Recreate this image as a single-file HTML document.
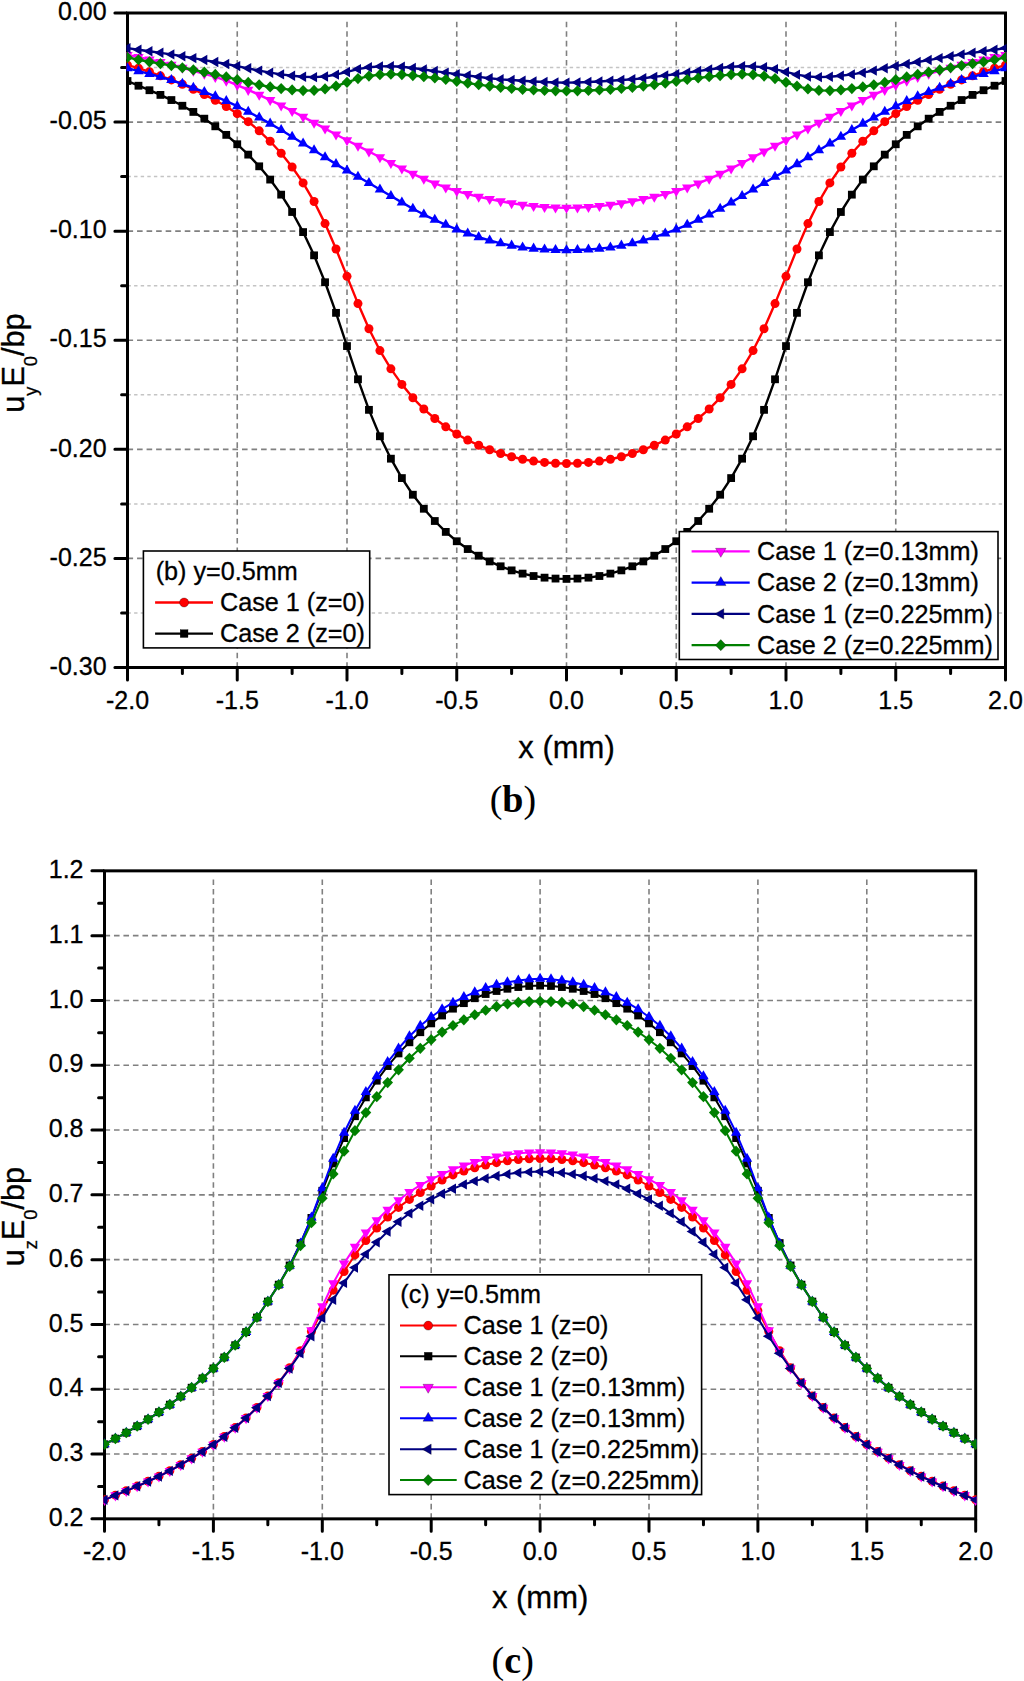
<!DOCTYPE html>
<html><head><meta charset="utf-8"><title>Figure</title>
<style>html,body{margin:0;padding:0;background:#fff;}svg{display:block;}</style></head>
<body><svg width="1024" height="1681" viewBox="0 0 1024 1681">
<rect width="1024" height="1681" fill="#fff"/>
<line x1="127.5" y1="67.54" x2="1005.5" y2="67.54" stroke="#c4c4c4" stroke-width="1.5" stroke-dasharray="3.4 3.2"/>
<line x1="127.5" y1="176.62" x2="1005.5" y2="176.62" stroke="#c4c4c4" stroke-width="1.5" stroke-dasharray="3.4 3.2"/>
<line x1="127.5" y1="285.71" x2="1005.5" y2="285.71" stroke="#c4c4c4" stroke-width="1.5" stroke-dasharray="3.4 3.2"/>
<line x1="127.5" y1="394.79" x2="1005.5" y2="394.79" stroke="#c4c4c4" stroke-width="1.5" stroke-dasharray="3.4 3.2"/>
<line x1="127.5" y1="503.88" x2="1005.5" y2="503.88" stroke="#c4c4c4" stroke-width="1.5" stroke-dasharray="3.4 3.2"/>
<line x1="127.5" y1="612.96" x2="1005.5" y2="612.96" stroke="#c4c4c4" stroke-width="1.5" stroke-dasharray="3.4 3.2"/>
<line x1="127.5" y1="122.08" x2="1005.5" y2="122.08" stroke="#808080" stroke-width="1.6" stroke-dasharray="5.6 3.94"/>
<line x1="127.5" y1="231.17" x2="1005.5" y2="231.17" stroke="#808080" stroke-width="1.6" stroke-dasharray="5.6 3.94"/>
<line x1="127.5" y1="340.25" x2="1005.5" y2="340.25" stroke="#808080" stroke-width="1.6" stroke-dasharray="5.6 3.94"/>
<line x1="127.5" y1="449.33" x2="1005.5" y2="449.33" stroke="#808080" stroke-width="1.6" stroke-dasharray="5.6 3.94"/>
<line x1="127.5" y1="558.42" x2="1005.5" y2="558.42" stroke="#808080" stroke-width="1.6" stroke-dasharray="5.6 3.94"/>
<line x1="237.25" y1="21.7" x2="237.25" y2="667.5" stroke="#808080" stroke-width="1.6" stroke-dasharray="5.6 3.96"/>
<line x1="347" y1="21.7" x2="347" y2="667.5" stroke="#808080" stroke-width="1.6" stroke-dasharray="5.6 3.96"/>
<line x1="456.75" y1="21.7" x2="456.75" y2="667.5" stroke="#808080" stroke-width="1.6" stroke-dasharray="5.6 3.96"/>
<line x1="566.5" y1="21.7" x2="566.5" y2="667.5" stroke="#808080" stroke-width="1.6" stroke-dasharray="5.6 3.96"/>
<line x1="676.25" y1="21.7" x2="676.25" y2="667.5" stroke="#808080" stroke-width="1.6" stroke-dasharray="5.6 3.96"/>
<line x1="786" y1="21.7" x2="786" y2="667.5" stroke="#808080" stroke-width="1.6" stroke-dasharray="5.6 3.96"/>
<line x1="895.75" y1="21.7" x2="895.75" y2="667.5" stroke="#808080" stroke-width="1.6" stroke-dasharray="5.6 3.96"/>
<rect x="127.5" y="13" width="878" height="654.5" fill="none" stroke="#000" stroke-width="3"/>
<path d="M127.5 668.5V680 M237.25 668.5V680 M347 668.5V680 M456.75 668.5V680 M566.5 668.5V680 M676.25 668.5V680 M786 668.5V680 M895.75 668.5V680 M1005.5 668.5V680 M182.38 668.5V673.4 M292.12 668.5V673.4 M401.88 668.5V673.4 M511.62 668.5V673.4 M621.38 668.5V673.4 M731.12 668.5V673.4 M840.88 668.5V673.4 M950.62 668.5V673.4 M126.5 13H114.9 M126.5 122.08H114.9 M126.5 231.17H114.9 M126.5 340.25H114.9 M126.5 449.33H114.9 M126.5 558.42H114.9 M126.5 667.5H114.9 M126.5 67.54H121.6 M126.5 176.62H121.6 M126.5 285.71H121.6 M126.5 394.79H121.6 M126.5 503.88H121.6 M126.5 612.96H121.6" fill="none" stroke="#000" stroke-width="3" stroke-linecap="round"/>
<clipPath id="cb"><rect x="126.5" y="-7" width="880" height="694.5"/></clipPath>
<g clip-path="url(#cb)">
<g>
<polyline fill="none" stroke="#ff0000" stroke-width="2.4" stroke-linejoin="round" points="127.5,65.2 138.47,68.17 149.45,71.8 160.43,75.85 171.4,79.88 182.38,84.22 193.35,89.28 204.32,94.62 215.3,100.28 226.27,106.57 237.25,113.65 248.22,121.68 259.2,130.85 270.17,141.3 281.15,153.2 292.12,166.95 303.1,182.9 314.07,201.55 325.05,223.6 336.02,248.97 347,276.35 357.98,303.6 368.95,328.75 379.92,350.58 390.9,368.85 401.88,384.38 412.85,397.8 423.82,409.05 434.8,418.5 445.77,426.82 456.75,434.02 467.72,440.1 478.7,445.27 489.68,449.7 500.65,453.52 511.62,456.75 522.6,459.28 533.58,461.1 544.55,462.38 555.52,463.22 566.5,463.55 577.47,463.22 588.45,462.38 599.42,461.1 610.4,459.28 621.38,456.75 632.35,453.52 643.32,449.7 654.3,445.27 665.27,440.1 676.25,434.02 687.23,426.82 698.2,418.5 709.17,409.05 720.15,397.8 731.12,384.38 742.1,368.85 753.07,350.58 764.05,328.75 775.02,303.6 786,276.35 796.98,248.97 807.95,223.6 818.92,201.55 829.9,182.9 840.88,166.95 851.85,153.2 862.82,141.3 873.8,130.85 884.77,121.68 895.75,113.65 906.73,106.57 917.7,100.28 928.67,94.62 939.65,89.28 950.62,84.22 961.6,79.88 972.57,75.85 983.55,71.8 994.52,68.17 1005.5,65.2"/>
<g fill="#ff0000">
<circle cx="127.5" cy="65.2" r="4.5"/>
<circle cx="138.47" cy="68.17" r="4.5"/>
<circle cx="149.45" cy="71.8" r="4.5"/>
<circle cx="160.43" cy="75.85" r="4.5"/>
<circle cx="171.4" cy="79.88" r="4.5"/>
<circle cx="182.38" cy="84.22" r="4.5"/>
<circle cx="193.35" cy="89.28" r="4.5"/>
<circle cx="204.32" cy="94.62" r="4.5"/>
<circle cx="215.3" cy="100.28" r="4.5"/>
<circle cx="226.27" cy="106.57" r="4.5"/>
<circle cx="237.25" cy="113.65" r="4.5"/>
<circle cx="248.22" cy="121.68" r="4.5"/>
<circle cx="259.2" cy="130.85" r="4.5"/>
<circle cx="270.17" cy="141.3" r="4.5"/>
<circle cx="281.15" cy="153.2" r="4.5"/>
<circle cx="292.12" cy="166.95" r="4.5"/>
<circle cx="303.1" cy="182.9" r="4.5"/>
<circle cx="314.07" cy="201.55" r="4.5"/>
<circle cx="325.05" cy="223.6" r="4.5"/>
<circle cx="336.02" cy="248.97" r="4.5"/>
<circle cx="347" cy="276.35" r="4.5"/>
<circle cx="357.98" cy="303.6" r="4.5"/>
<circle cx="368.95" cy="328.75" r="4.5"/>
<circle cx="379.92" cy="350.58" r="4.5"/>
<circle cx="390.9" cy="368.85" r="4.5"/>
<circle cx="401.88" cy="384.38" r="4.5"/>
<circle cx="412.85" cy="397.8" r="4.5"/>
<circle cx="423.82" cy="409.05" r="4.5"/>
<circle cx="434.8" cy="418.5" r="4.5"/>
<circle cx="445.77" cy="426.82" r="4.5"/>
<circle cx="456.75" cy="434.02" r="4.5"/>
<circle cx="467.72" cy="440.1" r="4.5"/>
<circle cx="478.7" cy="445.27" r="4.5"/>
<circle cx="489.68" cy="449.7" r="4.5"/>
<circle cx="500.65" cy="453.52" r="4.5"/>
<circle cx="511.62" cy="456.75" r="4.5"/>
<circle cx="522.6" cy="459.28" r="4.5"/>
<circle cx="533.58" cy="461.1" r="4.5"/>
<circle cx="544.55" cy="462.38" r="4.5"/>
<circle cx="555.52" cy="463.22" r="4.5"/>
<circle cx="566.5" cy="463.55" r="4.5"/>
<circle cx="577.47" cy="463.22" r="4.5"/>
<circle cx="588.45" cy="462.38" r="4.5"/>
<circle cx="599.42" cy="461.1" r="4.5"/>
<circle cx="610.4" cy="459.28" r="4.5"/>
<circle cx="621.38" cy="456.75" r="4.5"/>
<circle cx="632.35" cy="453.52" r="4.5"/>
<circle cx="643.32" cy="449.7" r="4.5"/>
<circle cx="654.3" cy="445.27" r="4.5"/>
<circle cx="665.27" cy="440.1" r="4.5"/>
<circle cx="676.25" cy="434.02" r="4.5"/>
<circle cx="687.23" cy="426.82" r="4.5"/>
<circle cx="698.2" cy="418.5" r="4.5"/>
<circle cx="709.17" cy="409.05" r="4.5"/>
<circle cx="720.15" cy="397.8" r="4.5"/>
<circle cx="731.12" cy="384.38" r="4.5"/>
<circle cx="742.1" cy="368.85" r="4.5"/>
<circle cx="753.07" cy="350.58" r="4.5"/>
<circle cx="764.05" cy="328.75" r="4.5"/>
<circle cx="775.02" cy="303.6" r="4.5"/>
<circle cx="786" cy="276.35" r="4.5"/>
<circle cx="796.98" cy="248.97" r="4.5"/>
<circle cx="807.95" cy="223.6" r="4.5"/>
<circle cx="818.92" cy="201.55" r="4.5"/>
<circle cx="829.9" cy="182.9" r="4.5"/>
<circle cx="840.88" cy="166.95" r="4.5"/>
<circle cx="851.85" cy="153.2" r="4.5"/>
<circle cx="862.82" cy="141.3" r="4.5"/>
<circle cx="873.8" cy="130.85" r="4.5"/>
<circle cx="884.77" cy="121.68" r="4.5"/>
<circle cx="895.75" cy="113.65" r="4.5"/>
<circle cx="906.73" cy="106.57" r="4.5"/>
<circle cx="917.7" cy="100.28" r="4.5"/>
<circle cx="928.67" cy="94.62" r="4.5"/>
<circle cx="939.65" cy="89.28" r="4.5"/>
<circle cx="950.62" cy="84.22" r="4.5"/>
<circle cx="961.6" cy="79.88" r="4.5"/>
<circle cx="972.57" cy="75.85" r="4.5"/>
<circle cx="983.55" cy="71.8" r="4.5"/>
<circle cx="994.52" cy="68.17" r="4.5"/>
<circle cx="1005.5" cy="65.2" r="4.5"/>
</g></g>
<g>
<polyline fill="none" stroke="#000000" stroke-width="2.4" stroke-linejoin="round" points="127.5,81 138.47,85.72 149.45,90.23 160.43,94.9 171.4,100.05 182.38,105.75 193.35,111.92 204.32,118.67 215.3,126.32 226.27,134.88 237.25,144.25 248.22,154.62 259.2,166.32 270.17,179.58 281.15,194.65 292.12,212 303.1,232.08 314.07,255.35 325.05,282.25 336.02,312.85 347,346.08 357.98,379.3 368.95,409.85 379.92,436.28 390.9,458.68 401.88,478.07 412.85,494.73 423.82,508.75 434.8,521 445.77,531.9 456.75,541.25 467.72,549.05 478.7,555.7 489.68,561.43 500.65,566.3 511.62,570.38 522.6,573.6 533.58,576.02 544.55,577.65 555.52,578.58 566.5,578.9 577.47,578.58 588.45,577.65 599.42,576.02 610.4,573.6 621.38,570.38 632.35,566.3 643.32,561.43 654.3,555.7 665.27,549.05 676.25,541.25 687.23,531.9 698.2,521 709.17,508.75 720.15,494.73 731.12,478.07 742.1,458.68 753.07,436.28 764.05,409.85 775.02,379.3 786,346.08 796.98,312.85 807.95,282.25 818.92,255.35 829.9,232.08 840.88,212 851.85,194.65 862.82,179.58 873.8,166.32 884.77,154.62 895.75,144.25 906.73,134.88 917.7,126.32 928.67,118.67 939.65,111.92 950.62,105.75 961.6,100.05 972.57,94.9 983.55,90.23 994.52,85.72 1005.5,81"/>
<g fill="#000000">
<rect x="123.6" y="77.1" width="7.8" height="7.8"/>
<rect x="134.57" y="81.82" width="7.8" height="7.8"/>
<rect x="145.55" y="86.33" width="7.8" height="7.8"/>
<rect x="156.53" y="91" width="7.8" height="7.8"/>
<rect x="167.5" y="96.15" width="7.8" height="7.8"/>
<rect x="178.47" y="101.85" width="7.8" height="7.8"/>
<rect x="189.45" y="108.02" width="7.8" height="7.8"/>
<rect x="200.42" y="114.77" width="7.8" height="7.8"/>
<rect x="211.4" y="122.42" width="7.8" height="7.8"/>
<rect x="222.37" y="130.97" width="7.8" height="7.8"/>
<rect x="233.35" y="140.35" width="7.8" height="7.8"/>
<rect x="244.32" y="150.72" width="7.8" height="7.8"/>
<rect x="255.3" y="162.42" width="7.8" height="7.8"/>
<rect x="266.27" y="175.68" width="7.8" height="7.8"/>
<rect x="277.25" y="190.75" width="7.8" height="7.8"/>
<rect x="288.23" y="208.1" width="7.8" height="7.8"/>
<rect x="299.2" y="228.18" width="7.8" height="7.8"/>
<rect x="310.18" y="251.45" width="7.8" height="7.8"/>
<rect x="321.15" y="278.35" width="7.8" height="7.8"/>
<rect x="332.12" y="308.95" width="7.8" height="7.8"/>
<rect x="343.1" y="342.18" width="7.8" height="7.8"/>
<rect x="354.08" y="375.4" width="7.8" height="7.8"/>
<rect x="365.05" y="405.95" width="7.8" height="7.8"/>
<rect x="376.02" y="432.38" width="7.8" height="7.8"/>
<rect x="387" y="454.78" width="7.8" height="7.8"/>
<rect x="397.98" y="474.18" width="7.8" height="7.8"/>
<rect x="408.95" y="490.83" width="7.8" height="7.8"/>
<rect x="419.93" y="504.85" width="7.8" height="7.8"/>
<rect x="430.9" y="517.1" width="7.8" height="7.8"/>
<rect x="441.88" y="528" width="7.8" height="7.8"/>
<rect x="452.85" y="537.35" width="7.8" height="7.8"/>
<rect x="463.82" y="545.15" width="7.8" height="7.8"/>
<rect x="474.8" y="551.8" width="7.8" height="7.8"/>
<rect x="485.78" y="557.53" width="7.8" height="7.8"/>
<rect x="496.75" y="562.4" width="7.8" height="7.8"/>
<rect x="507.73" y="566.48" width="7.8" height="7.8"/>
<rect x="518.7" y="569.7" width="7.8" height="7.8"/>
<rect x="529.68" y="572.12" width="7.8" height="7.8"/>
<rect x="540.65" y="573.75" width="7.8" height="7.8"/>
<rect x="551.62" y="574.68" width="7.8" height="7.8"/>
<rect x="562.6" y="575" width="7.8" height="7.8"/>
<rect x="573.57" y="574.68" width="7.8" height="7.8"/>
<rect x="584.55" y="573.75" width="7.8" height="7.8"/>
<rect x="595.52" y="572.12" width="7.8" height="7.8"/>
<rect x="606.5" y="569.7" width="7.8" height="7.8"/>
<rect x="617.48" y="566.48" width="7.8" height="7.8"/>
<rect x="628.45" y="562.4" width="7.8" height="7.8"/>
<rect x="639.42" y="557.53" width="7.8" height="7.8"/>
<rect x="650.4" y="551.8" width="7.8" height="7.8"/>
<rect x="661.38" y="545.15" width="7.8" height="7.8"/>
<rect x="672.35" y="537.35" width="7.8" height="7.8"/>
<rect x="683.33" y="528" width="7.8" height="7.8"/>
<rect x="694.3" y="517.1" width="7.8" height="7.8"/>
<rect x="705.27" y="504.85" width="7.8" height="7.8"/>
<rect x="716.25" y="490.83" width="7.8" height="7.8"/>
<rect x="727.23" y="474.18" width="7.8" height="7.8"/>
<rect x="738.2" y="454.78" width="7.8" height="7.8"/>
<rect x="749.17" y="432.38" width="7.8" height="7.8"/>
<rect x="760.15" y="405.95" width="7.8" height="7.8"/>
<rect x="771.12" y="375.4" width="7.8" height="7.8"/>
<rect x="782.1" y="342.18" width="7.8" height="7.8"/>
<rect x="793.08" y="308.95" width="7.8" height="7.8"/>
<rect x="804.05" y="278.35" width="7.8" height="7.8"/>
<rect x="815.02" y="251.45" width="7.8" height="7.8"/>
<rect x="826" y="228.18" width="7.8" height="7.8"/>
<rect x="836.98" y="208.1" width="7.8" height="7.8"/>
<rect x="847.95" y="190.75" width="7.8" height="7.8"/>
<rect x="858.92" y="175.68" width="7.8" height="7.8"/>
<rect x="869.9" y="162.42" width="7.8" height="7.8"/>
<rect x="880.88" y="150.72" width="7.8" height="7.8"/>
<rect x="891.85" y="140.35" width="7.8" height="7.8"/>
<rect x="902.83" y="130.97" width="7.8" height="7.8"/>
<rect x="913.8" y="122.42" width="7.8" height="7.8"/>
<rect x="924.77" y="114.77" width="7.8" height="7.8"/>
<rect x="935.75" y="108.02" width="7.8" height="7.8"/>
<rect x="946.73" y="101.85" width="7.8" height="7.8"/>
<rect x="957.7" y="96.15" width="7.8" height="7.8"/>
<rect x="968.67" y="91" width="7.8" height="7.8"/>
<rect x="979.65" y="86.33" width="7.8" height="7.8"/>
<rect x="990.62" y="81.82" width="7.8" height="7.8"/>
<rect x="1001.6" y="77.1" width="7.8" height="7.8"/>
</g></g>
<g>
<polyline fill="none" stroke="#ff00ff" stroke-width="2.4" stroke-linejoin="round" points="127.5,55 138.47,57.12 149.45,59.5 160.43,62.05 171.4,64.77 182.38,67.75 193.35,70.85 204.32,73.85 215.3,76.95 226.27,80.67 237.25,85.1 248.22,89.87 259.2,94.85 270.17,100.07 281.15,105.42 292.12,111 303.1,116.85 314.07,122.67 325.05,128.57 336.02,134.55 347,140.25 357.98,145.82 368.95,151.55 379.92,157.27 390.9,162.97 401.88,168.57 412.85,173.85 423.82,178.82 434.8,183.4 445.77,187.5 456.75,191.07 467.72,194.1 478.7,196.75 489.68,199.07 500.65,201.22 511.62,203.22 522.6,204.85 533.58,206.07 544.55,206.97 555.52,207.57 566.5,207.8 577.47,207.57 588.45,206.97 599.42,206.07 610.4,204.85 621.38,203.22 632.35,201.22 643.32,199.07 654.3,196.75 665.27,194.1 676.25,191.07 687.23,187.5 698.2,183.4 709.17,178.82 720.15,173.85 731.12,168.57 742.1,162.97 753.07,157.27 764.05,151.55 775.02,145.82 786,140.25 796.98,134.55 807.95,128.57 818.92,122.67 829.9,116.85 840.88,111 851.85,105.42 862.82,100.07 873.8,94.85 884.77,89.87 895.75,85.1 906.73,80.67 917.7,76.95 928.67,73.85 939.65,70.85 950.62,67.75 961.6,64.77 972.57,62.05 983.55,59.5 994.52,57.12 1005.5,55"/>
<g fill="#ff00ff">
<path d="M127.5 61 L122.3 52 L132.7 52 Z"/>
<path d="M138.47 63.13 L133.28 54.12 L143.67 54.12 Z"/>
<path d="M149.45 65.5 L144.25 56.5 L154.65 56.5 Z"/>
<path d="M160.43 68.05 L155.23 59.05 L165.62 59.05 Z"/>
<path d="M171.4 70.78 L166.2 61.77 L176.6 61.77 Z"/>
<path d="M182.38 73.75 L177.18 64.75 L187.57 64.75 Z"/>
<path d="M193.35 76.85 L188.15 67.85 L198.55 67.85 Z"/>
<path d="M204.32 79.85 L199.12 70.85 L209.52 70.85 Z"/>
<path d="M215.3 82.95 L210.1 73.95 L220.5 73.95 Z"/>
<path d="M226.27 86.68 L221.07 77.67 L231.47 77.67 Z"/>
<path d="M237.25 91.1 L232.05 82.1 L242.45 82.1 Z"/>
<path d="M248.22 95.88 L243.03 86.87 L253.42 86.87 Z"/>
<path d="M259.2 100.85 L254 91.85 L264.4 91.85 Z"/>
<path d="M270.17 106.08 L264.97 97.07 L275.37 97.07 Z"/>
<path d="M281.15 111.43 L275.95 102.42 L286.35 102.42 Z"/>
<path d="M292.12 117 L286.93 108 L297.32 108 Z"/>
<path d="M303.1 122.85 L297.9 113.85 L308.3 113.85 Z"/>
<path d="M314.07 128.68 L308.88 119.67 L319.27 119.67 Z"/>
<path d="M325.05 134.58 L319.85 125.57 L330.25 125.57 Z"/>
<path d="M336.02 140.55 L330.82 131.55 L341.22 131.55 Z"/>
<path d="M347 146.25 L341.8 137.25 L352.2 137.25 Z"/>
<path d="M357.98 151.83 L352.78 142.82 L363.18 142.82 Z"/>
<path d="M368.95 157.55 L363.75 148.55 L374.15 148.55 Z"/>
<path d="M379.92 163.28 L374.72 154.27 L385.12 154.27 Z"/>
<path d="M390.9 168.98 L385.7 159.97 L396.1 159.97 Z"/>
<path d="M401.88 174.58 L396.68 165.57 L407.07 165.57 Z"/>
<path d="M412.85 179.85 L407.65 170.85 L418.05 170.85 Z"/>
<path d="M423.82 184.83 L418.62 175.82 L429.02 175.82 Z"/>
<path d="M434.8 189.4 L429.6 180.4 L440 180.4 Z"/>
<path d="M445.77 193.5 L440.57 184.5 L450.97 184.5 Z"/>
<path d="M456.75 197.08 L451.55 188.07 L461.95 188.07 Z"/>
<path d="M467.72 200.1 L462.52 191.1 L472.92 191.1 Z"/>
<path d="M478.7 202.75 L473.5 193.75 L483.9 193.75 Z"/>
<path d="M489.68 205.08 L484.48 196.07 L494.88 196.07 Z"/>
<path d="M500.65 207.23 L495.45 198.22 L505.85 198.22 Z"/>
<path d="M511.62 209.23 L506.43 200.22 L516.83 200.22 Z"/>
<path d="M522.6 210.85 L517.4 201.85 L527.8 201.85 Z"/>
<path d="M533.58 212.08 L528.38 203.07 L538.78 203.07 Z"/>
<path d="M544.55 212.98 L539.35 203.97 L549.75 203.97 Z"/>
<path d="M555.52 213.58 L550.32 204.57 L560.73 204.57 Z"/>
<path d="M566.5 213.8 L561.3 204.8 L571.7 204.8 Z"/>
<path d="M577.47 213.58 L572.27 204.57 L582.67 204.57 Z"/>
<path d="M588.45 212.98 L583.25 203.97 L593.65 203.97 Z"/>
<path d="M599.42 212.08 L594.22 203.07 L604.62 203.07 Z"/>
<path d="M610.4 210.85 L605.2 201.85 L615.6 201.85 Z"/>
<path d="M621.38 209.23 L616.17 200.22 L626.58 200.22 Z"/>
<path d="M632.35 207.23 L627.15 198.22 L637.55 198.22 Z"/>
<path d="M643.32 205.08 L638.12 196.07 L648.52 196.07 Z"/>
<path d="M654.3 202.75 L649.1 193.75 L659.5 193.75 Z"/>
<path d="M665.27 200.1 L660.07 191.1 L670.48 191.1 Z"/>
<path d="M676.25 197.08 L671.05 188.07 L681.45 188.07 Z"/>
<path d="M687.23 193.5 L682.02 184.5 L692.43 184.5 Z"/>
<path d="M698.2 189.4 L693 180.4 L703.4 180.4 Z"/>
<path d="M709.17 184.83 L703.97 175.82 L714.38 175.82 Z"/>
<path d="M720.15 179.85 L714.95 170.85 L725.35 170.85 Z"/>
<path d="M731.12 174.58 L725.92 165.57 L736.33 165.57 Z"/>
<path d="M742.1 168.98 L736.9 159.97 L747.3 159.97 Z"/>
<path d="M753.07 163.28 L747.87 154.27 L758.27 154.27 Z"/>
<path d="M764.05 157.55 L758.85 148.55 L769.25 148.55 Z"/>
<path d="M775.02 151.83 L769.82 142.82 L780.23 142.82 Z"/>
<path d="M786 146.25 L780.8 137.25 L791.2 137.25 Z"/>
<path d="M796.98 140.55 L791.77 131.55 L802.18 131.55 Z"/>
<path d="M807.95 134.58 L802.75 125.57 L813.15 125.57 Z"/>
<path d="M818.92 128.68 L813.72 119.67 L824.12 119.67 Z"/>
<path d="M829.9 122.85 L824.7 113.85 L835.1 113.85 Z"/>
<path d="M840.88 117 L835.67 108 L846.08 108 Z"/>
<path d="M851.85 111.43 L846.65 102.42 L857.05 102.42 Z"/>
<path d="M862.82 106.08 L857.62 97.07 L868.02 97.07 Z"/>
<path d="M873.8 100.85 L868.6 91.85 L879 91.85 Z"/>
<path d="M884.77 95.88 L879.57 86.87 L889.98 86.87 Z"/>
<path d="M895.75 91.1 L890.55 82.1 L900.95 82.1 Z"/>
<path d="M906.73 86.68 L901.52 77.67 L911.93 77.67 Z"/>
<path d="M917.7 82.95 L912.5 73.95 L922.9 73.95 Z"/>
<path d="M928.67 79.85 L923.47 70.85 L933.88 70.85 Z"/>
<path d="M939.65 76.85 L934.45 67.85 L944.85 67.85 Z"/>
<path d="M950.62 73.75 L945.42 64.75 L955.83 64.75 Z"/>
<path d="M961.6 70.78 L956.4 61.77 L966.8 61.77 Z"/>
<path d="M972.57 68.05 L967.37 59.05 L977.77 59.05 Z"/>
<path d="M983.55 65.5 L978.35 56.5 L988.75 56.5 Z"/>
<path d="M994.52 63.13 L989.32 54.12 L999.73 54.12 Z"/>
<path d="M1005.5 61 L1000.3 52 L1010.7 52 Z"/>
</g></g>
<g>
<polyline fill="none" stroke="#0000ff" stroke-width="2.4" stroke-linejoin="round" points="127.5,68.2 138.47,71.18 149.45,73.95 160.43,76.8 171.4,80.1 182.38,83.85 193.35,87.8 204.32,91.93 215.3,96.35 226.27,101.1 237.25,106.2 248.22,111.75 259.2,117.6 270.17,123.63 281.15,130.05 292.12,136.75 303.1,143.45 314.07,150.23 325.05,157.18 336.02,164.13 347,170.6 357.98,176.75 368.95,183.08 379.92,189.53 390.9,195.98 401.88,202.4 412.85,208.7 423.82,214.55 434.8,219.85 445.77,224.83 456.75,229.4 467.72,233.45 478.7,237.13 489.68,240.5 500.65,243.35 511.62,245.63 522.6,247.4 533.58,248.63 544.55,249.43 555.52,249.98 566.5,250.2 577.47,249.98 588.45,249.43 599.42,248.63 610.4,247.4 621.38,245.63 632.35,243.35 643.32,240.5 654.3,237.13 665.27,233.45 676.25,229.4 687.23,224.83 698.2,219.85 709.17,214.55 720.15,208.7 731.12,202.4 742.1,195.98 753.07,189.53 764.05,183.08 775.02,176.75 786,170.6 796.98,164.13 807.95,157.18 818.92,150.23 829.9,143.45 840.88,136.75 851.85,130.05 862.82,123.63 873.8,117.6 884.77,111.75 895.75,106.2 906.73,101.1 917.7,96.35 928.67,91.93 939.65,87.8 950.62,83.85 961.6,80.1 972.57,76.8 983.55,73.95 994.52,71.18 1005.5,68.2"/>
<g fill="#0000ff">
<path d="M127.5 62.2 L122.3 71.2 L132.7 71.2 Z"/>
<path d="M138.47 65.17 L133.28 74.18 L143.67 74.18 Z"/>
<path d="M149.45 67.95 L144.25 76.95 L154.65 76.95 Z"/>
<path d="M160.43 70.8 L155.23 79.8 L165.62 79.8 Z"/>
<path d="M171.4 74.1 L166.2 83.1 L176.6 83.1 Z"/>
<path d="M182.38 77.85 L177.18 86.85 L187.57 86.85 Z"/>
<path d="M193.35 81.8 L188.15 90.8 L198.55 90.8 Z"/>
<path d="M204.32 85.92 L199.12 94.93 L209.52 94.93 Z"/>
<path d="M215.3 90.35 L210.1 99.35 L220.5 99.35 Z"/>
<path d="M226.27 95.1 L221.07 104.1 L231.47 104.1 Z"/>
<path d="M237.25 100.2 L232.05 109.2 L242.45 109.2 Z"/>
<path d="M248.22 105.75 L243.03 114.75 L253.42 114.75 Z"/>
<path d="M259.2 111.6 L254 120.6 L264.4 120.6 Z"/>
<path d="M270.17 117.62 L264.97 126.63 L275.37 126.63 Z"/>
<path d="M281.15 124.05 L275.95 133.05 L286.35 133.05 Z"/>
<path d="M292.12 130.75 L286.93 139.75 L297.32 139.75 Z"/>
<path d="M303.1 137.45 L297.9 146.45 L308.3 146.45 Z"/>
<path d="M314.07 144.22 L308.88 153.23 L319.27 153.23 Z"/>
<path d="M325.05 151.17 L319.85 160.18 L330.25 160.18 Z"/>
<path d="M336.02 158.12 L330.82 167.13 L341.22 167.13 Z"/>
<path d="M347 164.6 L341.8 173.6 L352.2 173.6 Z"/>
<path d="M357.98 170.75 L352.78 179.75 L363.18 179.75 Z"/>
<path d="M368.95 177.07 L363.75 186.08 L374.15 186.08 Z"/>
<path d="M379.92 183.52 L374.72 192.53 L385.12 192.53 Z"/>
<path d="M390.9 189.97 L385.7 198.98 L396.1 198.98 Z"/>
<path d="M401.88 196.4 L396.68 205.4 L407.07 205.4 Z"/>
<path d="M412.85 202.7 L407.65 211.7 L418.05 211.7 Z"/>
<path d="M423.82 208.55 L418.62 217.55 L429.02 217.55 Z"/>
<path d="M434.8 213.85 L429.6 222.85 L440 222.85 Z"/>
<path d="M445.77 218.82 L440.57 227.83 L450.97 227.83 Z"/>
<path d="M456.75 223.4 L451.55 232.4 L461.95 232.4 Z"/>
<path d="M467.72 227.45 L462.52 236.45 L472.92 236.45 Z"/>
<path d="M478.7 231.12 L473.5 240.13 L483.9 240.13 Z"/>
<path d="M489.68 234.5 L484.48 243.5 L494.88 243.5 Z"/>
<path d="M500.65 237.35 L495.45 246.35 L505.85 246.35 Z"/>
<path d="M511.62 239.62 L506.43 248.63 L516.83 248.63 Z"/>
<path d="M522.6 241.4 L517.4 250.4 L527.8 250.4 Z"/>
<path d="M533.58 242.62 L528.38 251.63 L538.78 251.63 Z"/>
<path d="M544.55 243.42 L539.35 252.43 L549.75 252.43 Z"/>
<path d="M555.52 243.97 L550.32 252.98 L560.73 252.98 Z"/>
<path d="M566.5 244.2 L561.3 253.2 L571.7 253.2 Z"/>
<path d="M577.47 243.97 L572.27 252.98 L582.67 252.98 Z"/>
<path d="M588.45 243.42 L583.25 252.43 L593.65 252.43 Z"/>
<path d="M599.42 242.62 L594.22 251.63 L604.62 251.63 Z"/>
<path d="M610.4 241.4 L605.2 250.4 L615.6 250.4 Z"/>
<path d="M621.38 239.62 L616.17 248.63 L626.58 248.63 Z"/>
<path d="M632.35 237.35 L627.15 246.35 L637.55 246.35 Z"/>
<path d="M643.32 234.5 L638.12 243.5 L648.52 243.5 Z"/>
<path d="M654.3 231.12 L649.1 240.13 L659.5 240.13 Z"/>
<path d="M665.27 227.45 L660.07 236.45 L670.48 236.45 Z"/>
<path d="M676.25 223.4 L671.05 232.4 L681.45 232.4 Z"/>
<path d="M687.23 218.82 L682.02 227.83 L692.43 227.83 Z"/>
<path d="M698.2 213.85 L693 222.85 L703.4 222.85 Z"/>
<path d="M709.17 208.55 L703.97 217.55 L714.38 217.55 Z"/>
<path d="M720.15 202.7 L714.95 211.7 L725.35 211.7 Z"/>
<path d="M731.12 196.4 L725.92 205.4 L736.33 205.4 Z"/>
<path d="M742.1 189.97 L736.9 198.98 L747.3 198.98 Z"/>
<path d="M753.07 183.52 L747.87 192.53 L758.27 192.53 Z"/>
<path d="M764.05 177.07 L758.85 186.08 L769.25 186.08 Z"/>
<path d="M775.02 170.75 L769.82 179.75 L780.23 179.75 Z"/>
<path d="M786 164.6 L780.8 173.6 L791.2 173.6 Z"/>
<path d="M796.98 158.12 L791.77 167.13 L802.18 167.13 Z"/>
<path d="M807.95 151.17 L802.75 160.18 L813.15 160.18 Z"/>
<path d="M818.92 144.22 L813.72 153.23 L824.12 153.23 Z"/>
<path d="M829.9 137.45 L824.7 146.45 L835.1 146.45 Z"/>
<path d="M840.88 130.75 L835.67 139.75 L846.08 139.75 Z"/>
<path d="M851.85 124.05 L846.65 133.05 L857.05 133.05 Z"/>
<path d="M862.82 117.62 L857.62 126.63 L868.02 126.63 Z"/>
<path d="M873.8 111.6 L868.6 120.6 L879 120.6 Z"/>
<path d="M884.77 105.75 L879.57 114.75 L889.98 114.75 Z"/>
<path d="M895.75 100.2 L890.55 109.2 L900.95 109.2 Z"/>
<path d="M906.73 95.1 L901.52 104.1 L911.93 104.1 Z"/>
<path d="M917.7 90.35 L912.5 99.35 L922.9 99.35 Z"/>
<path d="M928.67 85.92 L923.47 94.93 L933.88 94.93 Z"/>
<path d="M939.65 81.8 L934.45 90.8 L944.85 90.8 Z"/>
<path d="M950.62 77.85 L945.42 86.85 L955.83 86.85 Z"/>
<path d="M961.6 74.1 L956.4 83.1 L966.8 83.1 Z"/>
<path d="M972.57 70.8 L967.37 79.8 L977.77 79.8 Z"/>
<path d="M983.55 67.95 L978.35 76.95 L988.75 76.95 Z"/>
<path d="M994.52 65.17 L989.32 74.18 L999.73 74.18 Z"/>
<path d="M1005.5 62.2 L1000.3 71.2 L1010.7 71.2 Z"/>
</g></g>
<g>
<polyline fill="none" stroke="#000080" stroke-width="2.4" stroke-linejoin="round" points="127.5,48.1 138.47,49.7 149.45,51.28 160.43,52.82 171.4,54.42 182.38,56.2 193.35,58.12 204.32,60.07 215.3,62.05 226.27,64.05 237.25,66.12 248.22,68.32 259.2,70.58 270.17,72.67 281.15,74.4 292.12,75.75 303.1,76.75 314.07,77.15 325.05,76.48 336.02,74.65 347,71.95 357.98,69.08 368.95,67.2 379.92,66.38 390.9,66.2 401.88,66.78 412.85,67.95 423.82,69.47 434.8,71.07 445.77,72.62 456.75,74.15 467.72,75.52 478.7,76.85 489.68,78.25 500.65,79.33 511.62,80.03 522.6,80.78 533.58,81.53 544.55,82.05 555.52,82.45 566.5,82.65 577.47,82.45 588.45,82.05 599.42,81.53 610.4,80.78 621.38,80.03 632.35,79.33 643.32,78.25 654.3,76.85 665.27,75.52 676.25,74.15 687.23,72.62 698.2,71.07 709.17,69.47 720.15,67.95 731.12,66.78 742.1,66.2 753.07,66.38 764.05,67.2 775.02,69.08 786,71.95 796.98,74.65 807.95,76.48 818.92,77.15 829.9,76.75 840.88,75.75 851.85,74.4 862.82,72.67 873.8,70.58 884.77,68.32 895.75,66.12 906.73,64.05 917.7,62.05 928.67,60.07 939.65,58.12 950.62,56.2 961.6,54.42 972.57,52.82 983.55,51.28 994.52,49.7 1005.5,48.1"/>
<g fill="#000080">
<path d="M121.5 48.1 L130.5 42.9 L130.5 53.3 Z"/>
<path d="M132.47 49.7 L141.48 44.5 L141.48 54.9 Z"/>
<path d="M143.45 51.28 L152.45 46.08 L152.45 56.48 Z"/>
<path d="M154.42 52.82 L163.43 47.62 L163.43 58.02 Z"/>
<path d="M165.4 54.42 L174.4 49.22 L174.4 59.62 Z"/>
<path d="M176.37 56.2 L185.38 51 L185.38 61.4 Z"/>
<path d="M187.35 58.12 L196.35 52.92 L196.35 63.33 Z"/>
<path d="M198.32 60.07 L207.33 54.87 L207.33 65.27 Z"/>
<path d="M209.3 62.05 L218.3 56.85 L218.3 67.25 Z"/>
<path d="M220.27 64.05 L229.28 58.85 L229.28 69.25 Z"/>
<path d="M231.25 66.12 L240.25 60.92 L240.25 71.33 Z"/>
<path d="M242.22 68.32 L251.23 63.12 L251.23 73.52 Z"/>
<path d="M253.2 70.58 L262.2 65.38 L262.2 75.78 Z"/>
<path d="M264.17 72.67 L273.18 67.47 L273.18 77.88 Z"/>
<path d="M275.15 74.4 L284.15 69.2 L284.15 79.6 Z"/>
<path d="M286.12 75.75 L295.13 70.55 L295.13 80.95 Z"/>
<path d="M297.1 76.75 L306.1 71.55 L306.1 81.95 Z"/>
<path d="M308.07 77.15 L317.08 71.95 L317.08 82.35 Z"/>
<path d="M319.05 76.48 L328.05 71.28 L328.05 81.68 Z"/>
<path d="M330.02 74.65 L339.03 69.45 L339.03 79.85 Z"/>
<path d="M341 71.95 L350 66.75 L350 77.15 Z"/>
<path d="M351.97 69.08 L360.98 63.88 L360.98 74.28 Z"/>
<path d="M362.95 67.2 L371.95 62 L371.95 72.4 Z"/>
<path d="M373.92 66.38 L382.93 61.17 L382.93 71.58 Z"/>
<path d="M384.9 66.2 L393.9 61 L393.9 71.4 Z"/>
<path d="M395.87 66.78 L404.88 61.58 L404.88 71.98 Z"/>
<path d="M406.85 67.95 L415.85 62.75 L415.85 73.15 Z"/>
<path d="M417.82 69.47 L426.83 64.27 L426.83 74.67 Z"/>
<path d="M428.8 71.07 L437.8 65.87 L437.8 76.27 Z"/>
<path d="M439.77 72.62 L448.78 67.42 L448.78 77.83 Z"/>
<path d="M450.75 74.15 L459.75 68.95 L459.75 79.35 Z"/>
<path d="M461.72 75.52 L470.73 70.32 L470.73 80.72 Z"/>
<path d="M472.7 76.85 L481.7 71.65 L481.7 82.05 Z"/>
<path d="M483.67 78.25 L492.68 73.05 L492.68 83.45 Z"/>
<path d="M494.65 79.33 L503.65 74.12 L503.65 84.53 Z"/>
<path d="M505.62 80.03 L514.63 74.83 L514.63 85.23 Z"/>
<path d="M516.6 80.78 L525.6 75.58 L525.6 85.98 Z"/>
<path d="M527.57 81.53 L536.58 76.33 L536.58 86.73 Z"/>
<path d="M538.55 82.05 L547.55 76.85 L547.55 87.25 Z"/>
<path d="M549.52 82.45 L558.53 77.25 L558.53 87.65 Z"/>
<path d="M560.5 82.65 L569.5 77.45 L569.5 87.85 Z"/>
<path d="M571.47 82.45 L580.48 77.25 L580.48 87.65 Z"/>
<path d="M582.45 82.05 L591.45 76.85 L591.45 87.25 Z"/>
<path d="M593.42 81.53 L602.43 76.33 L602.43 86.73 Z"/>
<path d="M604.4 80.78 L613.4 75.58 L613.4 85.98 Z"/>
<path d="M615.37 80.03 L624.38 74.83 L624.38 85.23 Z"/>
<path d="M626.35 79.33 L635.35 74.12 L635.35 84.53 Z"/>
<path d="M637.32 78.25 L646.33 73.05 L646.33 83.45 Z"/>
<path d="M648.3 76.85 L657.3 71.65 L657.3 82.05 Z"/>
<path d="M659.27 75.52 L668.28 70.32 L668.28 80.72 Z"/>
<path d="M670.25 74.15 L679.25 68.95 L679.25 79.35 Z"/>
<path d="M681.22 72.62 L690.23 67.42 L690.23 77.83 Z"/>
<path d="M692.2 71.07 L701.2 65.87 L701.2 76.27 Z"/>
<path d="M703.17 69.47 L712.18 64.27 L712.18 74.67 Z"/>
<path d="M714.15 67.95 L723.15 62.75 L723.15 73.15 Z"/>
<path d="M725.12 66.78 L734.13 61.58 L734.13 71.98 Z"/>
<path d="M736.1 66.2 L745.1 61 L745.1 71.4 Z"/>
<path d="M747.07 66.38 L756.08 61.17 L756.08 71.58 Z"/>
<path d="M758.05 67.2 L767.05 62 L767.05 72.4 Z"/>
<path d="M769.02 69.08 L778.03 63.88 L778.03 74.28 Z"/>
<path d="M780 71.95 L789 66.75 L789 77.15 Z"/>
<path d="M790.97 74.65 L799.98 69.45 L799.98 79.85 Z"/>
<path d="M801.95 76.48 L810.95 71.28 L810.95 81.68 Z"/>
<path d="M812.92 77.15 L821.93 71.95 L821.93 82.35 Z"/>
<path d="M823.9 76.75 L832.9 71.55 L832.9 81.95 Z"/>
<path d="M834.87 75.75 L843.88 70.55 L843.88 80.95 Z"/>
<path d="M845.85 74.4 L854.85 69.2 L854.85 79.6 Z"/>
<path d="M856.82 72.67 L865.83 67.47 L865.83 77.88 Z"/>
<path d="M867.8 70.58 L876.8 65.38 L876.8 75.78 Z"/>
<path d="M878.77 68.32 L887.78 63.12 L887.78 73.52 Z"/>
<path d="M889.75 66.12 L898.75 60.92 L898.75 71.33 Z"/>
<path d="M900.72 64.05 L909.73 58.85 L909.73 69.25 Z"/>
<path d="M911.7 62.05 L920.7 56.85 L920.7 67.25 Z"/>
<path d="M922.67 60.07 L931.68 54.87 L931.68 65.27 Z"/>
<path d="M933.65 58.12 L942.65 52.92 L942.65 63.33 Z"/>
<path d="M944.62 56.2 L953.63 51 L953.63 61.4 Z"/>
<path d="M955.6 54.42 L964.6 49.22 L964.6 59.62 Z"/>
<path d="M966.57 52.82 L975.58 47.62 L975.58 58.02 Z"/>
<path d="M977.55 51.28 L986.55 46.08 L986.55 56.48 Z"/>
<path d="M988.52 49.7 L997.53 44.5 L997.53 54.9 Z"/>
<path d="M999.5 48.1 L1008.5 42.9 L1008.5 53.3 Z"/>
</g></g>
<g>
<polyline fill="none" stroke="#008000" stroke-width="2.4" stroke-linejoin="round" points="127.5,57.4 138.47,59.75 149.45,61.83 160.43,63.65 171.4,65.62 182.38,67.75 193.35,69.9 204.32,72.15 215.3,74.42 226.27,76.9 237.25,79.68 248.22,82.38 259.2,84.83 270.17,86.95 281.15,88.62 292.12,89.88 303.1,90.6 314.07,90.4 325.05,88.92 336.02,86.12 347,82.3 357.98,78.58 368.95,76.05 379.92,74.65 390.9,74.15 401.88,74.6 412.85,75.57 423.82,76.67 434.8,77.97 445.77,79.53 456.75,81.35 467.72,83.17 478.7,84.67 489.68,86.07 500.65,87.38 511.62,88.47 522.6,89.38 533.58,90.03 544.55,90.5 555.52,90.82 566.5,90.95 577.47,90.82 588.45,90.5 599.42,90.03 610.4,89.38 621.38,88.47 632.35,87.38 643.32,86.07 654.3,84.67 665.27,83.17 676.25,81.35 687.23,79.53 698.2,77.97 709.17,76.67 720.15,75.57 731.12,74.6 742.1,74.15 753.07,74.65 764.05,76.05 775.02,78.58 786,82.3 796.98,86.12 807.95,88.92 818.92,90.4 829.9,90.6 840.88,89.88 851.85,88.62 862.82,86.95 873.8,84.83 884.77,82.38 895.75,79.68 906.73,76.9 917.7,74.42 928.67,72.15 939.65,69.9 950.62,67.75 961.6,65.62 972.57,63.65 983.55,61.83 994.52,59.75 1005.5,57.4"/>
<g fill="#008000">
<path d="M127.5 51.8 L132.9 57.4 L127.5 63 L122.1 57.4 Z"/>
<path d="M138.47 54.15 L143.88 59.75 L138.47 65.35 L133.07 59.75 Z"/>
<path d="M149.45 56.23 L154.85 61.83 L149.45 67.42 L144.05 61.83 Z"/>
<path d="M160.43 58.05 L165.83 63.65 L160.43 69.25 L155.03 63.65 Z"/>
<path d="M171.4 60.02 L176.8 65.62 L171.4 71.22 L166 65.62 Z"/>
<path d="M182.38 62.15 L187.78 67.75 L182.38 73.35 L176.97 67.75 Z"/>
<path d="M193.35 64.3 L198.75 69.9 L193.35 75.5 L187.95 69.9 Z"/>
<path d="M204.32 66.55 L209.72 72.15 L204.32 77.75 L198.92 72.15 Z"/>
<path d="M215.3 68.83 L220.7 74.42 L215.3 80.02 L209.9 74.42 Z"/>
<path d="M226.27 71.3 L231.67 76.9 L226.27 82.5 L220.87 76.9 Z"/>
<path d="M237.25 74.08 L242.65 79.68 L237.25 85.28 L231.85 79.68 Z"/>
<path d="M248.22 76.78 L253.62 82.38 L248.22 87.97 L242.82 82.38 Z"/>
<path d="M259.2 79.23 L264.6 84.83 L259.2 90.42 L253.8 84.83 Z"/>
<path d="M270.17 81.35 L275.57 86.95 L270.17 92.55 L264.77 86.95 Z"/>
<path d="M281.15 83.03 L286.55 88.62 L281.15 94.22 L275.75 88.62 Z"/>
<path d="M292.12 84.28 L297.52 89.88 L292.12 95.47 L286.73 89.88 Z"/>
<path d="M303.1 85 L308.5 90.6 L303.1 96.2 L297.7 90.6 Z"/>
<path d="M314.07 84.8 L319.47 90.4 L314.07 96 L308.68 90.4 Z"/>
<path d="M325.05 83.33 L330.45 88.92 L325.05 94.52 L319.65 88.92 Z"/>
<path d="M336.02 80.53 L341.42 86.12 L336.02 91.72 L330.62 86.12 Z"/>
<path d="M347 76.7 L352.4 82.3 L347 87.9 L341.6 82.3 Z"/>
<path d="M357.98 72.98 L363.38 78.58 L357.98 84.17 L352.58 78.58 Z"/>
<path d="M368.95 70.45 L374.35 76.05 L368.95 81.65 L363.55 76.05 Z"/>
<path d="M379.92 69.05 L385.32 74.65 L379.92 80.25 L374.52 74.65 Z"/>
<path d="M390.9 68.55 L396.3 74.15 L390.9 79.75 L385.5 74.15 Z"/>
<path d="M401.88 69 L407.27 74.6 L401.88 80.2 L396.48 74.6 Z"/>
<path d="M412.85 69.97 L418.25 75.57 L412.85 81.17 L407.45 75.57 Z"/>
<path d="M423.82 71.08 L429.22 76.67 L423.82 82.27 L418.43 76.67 Z"/>
<path d="M434.8 72.38 L440.2 77.97 L434.8 83.57 L429.4 77.97 Z"/>
<path d="M445.77 73.93 L451.17 79.53 L445.77 85.12 L440.38 79.53 Z"/>
<path d="M456.75 75.75 L462.15 81.35 L456.75 86.95 L451.35 81.35 Z"/>
<path d="M467.72 77.58 L473.12 83.17 L467.72 88.77 L462.32 83.17 Z"/>
<path d="M478.7 79.08 L484.1 84.67 L478.7 90.27 L473.3 84.67 Z"/>
<path d="M489.68 80.47 L495.07 86.07 L489.68 91.67 L484.28 86.07 Z"/>
<path d="M500.65 81.78 L506.05 87.38 L500.65 92.97 L495.25 87.38 Z"/>
<path d="M511.62 82.88 L517.02 88.47 L511.62 94.07 L506.23 88.47 Z"/>
<path d="M522.6 83.78 L528 89.38 L522.6 94.97 L517.2 89.38 Z"/>
<path d="M533.58 84.43 L538.98 90.03 L533.58 95.62 L528.18 90.03 Z"/>
<path d="M544.55 84.9 L549.95 90.5 L544.55 96.1 L539.15 90.5 Z"/>
<path d="M555.52 85.22 L560.92 90.82 L555.52 96.42 L550.12 90.82 Z"/>
<path d="M566.5 85.35 L571.9 90.95 L566.5 96.55 L561.1 90.95 Z"/>
<path d="M577.47 85.22 L582.87 90.82 L577.47 96.42 L572.07 90.82 Z"/>
<path d="M588.45 84.9 L593.85 90.5 L588.45 96.1 L583.05 90.5 Z"/>
<path d="M599.42 84.43 L604.82 90.03 L599.42 95.62 L594.02 90.03 Z"/>
<path d="M610.4 83.78 L615.8 89.38 L610.4 94.97 L605 89.38 Z"/>
<path d="M621.38 82.88 L626.77 88.47 L621.38 94.07 L615.98 88.47 Z"/>
<path d="M632.35 81.78 L637.75 87.38 L632.35 92.97 L626.95 87.38 Z"/>
<path d="M643.32 80.47 L648.72 86.07 L643.32 91.67 L637.92 86.07 Z"/>
<path d="M654.3 79.08 L659.7 84.67 L654.3 90.27 L648.9 84.67 Z"/>
<path d="M665.27 77.58 L670.67 83.17 L665.27 88.77 L659.88 83.17 Z"/>
<path d="M676.25 75.75 L681.65 81.35 L676.25 86.95 L670.85 81.35 Z"/>
<path d="M687.23 73.93 L692.62 79.53 L687.23 85.12 L681.83 79.53 Z"/>
<path d="M698.2 72.38 L703.6 77.97 L698.2 83.57 L692.8 77.97 Z"/>
<path d="M709.17 71.08 L714.57 76.67 L709.17 82.27 L703.77 76.67 Z"/>
<path d="M720.15 69.97 L725.55 75.57 L720.15 81.17 L714.75 75.57 Z"/>
<path d="M731.12 69 L736.52 74.6 L731.12 80.2 L725.73 74.6 Z"/>
<path d="M742.1 68.55 L747.5 74.15 L742.1 79.75 L736.7 74.15 Z"/>
<path d="M753.07 69.05 L758.47 74.65 L753.07 80.25 L747.67 74.65 Z"/>
<path d="M764.05 70.45 L769.45 76.05 L764.05 81.65 L758.65 76.05 Z"/>
<path d="M775.02 72.98 L780.42 78.58 L775.02 84.17 L769.62 78.58 Z"/>
<path d="M786 76.7 L791.4 82.3 L786 87.9 L780.6 82.3 Z"/>
<path d="M796.98 80.53 L802.38 86.12 L796.98 91.72 L791.58 86.12 Z"/>
<path d="M807.95 83.33 L813.35 88.92 L807.95 94.52 L802.55 88.92 Z"/>
<path d="M818.92 84.8 L824.32 90.4 L818.92 96 L813.52 90.4 Z"/>
<path d="M829.9 85 L835.3 90.6 L829.9 96.2 L824.5 90.6 Z"/>
<path d="M840.88 84.28 L846.27 89.88 L840.88 95.47 L835.48 89.88 Z"/>
<path d="M851.85 83.03 L857.25 88.62 L851.85 94.22 L846.45 88.62 Z"/>
<path d="M862.82 81.35 L868.22 86.95 L862.82 92.55 L857.42 86.95 Z"/>
<path d="M873.8 79.23 L879.2 84.83 L873.8 90.42 L868.4 84.83 Z"/>
<path d="M884.77 76.78 L890.17 82.38 L884.77 87.97 L879.38 82.38 Z"/>
<path d="M895.75 74.08 L901.15 79.68 L895.75 85.28 L890.35 79.68 Z"/>
<path d="M906.73 71.3 L912.12 76.9 L906.73 82.5 L901.33 76.9 Z"/>
<path d="M917.7 68.83 L923.1 74.42 L917.7 80.02 L912.3 74.42 Z"/>
<path d="M928.67 66.55 L934.07 72.15 L928.67 77.75 L923.27 72.15 Z"/>
<path d="M939.65 64.3 L945.05 69.9 L939.65 75.5 L934.25 69.9 Z"/>
<path d="M950.62 62.15 L956.02 67.75 L950.62 73.35 L945.23 67.75 Z"/>
<path d="M961.6 60.02 L967 65.62 L961.6 71.22 L956.2 65.62 Z"/>
<path d="M972.57 58.05 L977.97 63.65 L972.57 69.25 L967.17 63.65 Z"/>
<path d="M983.55 56.23 L988.95 61.83 L983.55 67.42 L978.15 61.83 Z"/>
<path d="M994.52 54.15 L999.92 59.75 L994.52 65.35 L989.12 59.75 Z"/>
<path d="M1005.5 51.8 L1010.9 57.4 L1005.5 63 L1000.1 57.4 Z"/>
</g></g>
</g>
<g font-family="'Liberation Sans', Arial, Helvetica, sans-serif" font-size="25" fill="#000" stroke="#000" stroke-width="0.3">
<text x="127.5" y="708.6" text-anchor="middle">-2.0</text>
<text x="237.25" y="708.6" text-anchor="middle">-1.5</text>
<text x="347" y="708.6" text-anchor="middle">-1.0</text>
<text x="456.75" y="708.6" text-anchor="middle">-0.5</text>
<text x="566.5" y="708.6" text-anchor="middle">0.0</text>
<text x="676.25" y="708.6" text-anchor="middle">0.5</text>
<text x="786" y="708.6" text-anchor="middle">1.0</text>
<text x="895.75" y="708.6" text-anchor="middle">1.5</text>
<text x="1005.5" y="708.6" text-anchor="middle">2.0</text>
<text x="106.6" y="20.2" text-anchor="end">0.00</text>
<text x="106.6" y="129.28" text-anchor="end">-0.05</text>
<text x="106.6" y="238.37" text-anchor="end">-0.10</text>
<text x="106.6" y="347.45" text-anchor="end">-0.15</text>
<text x="106.6" y="456.53" text-anchor="end">-0.20</text>
<text x="106.6" y="565.62" text-anchor="end">-0.25</text>
<text x="106.6" y="674.7" text-anchor="end">-0.30</text>
</g>
<text x="566.5" y="757.8" font-family="'Liberation Sans', Arial, Helvetica, sans-serif" font-size="31" text-anchor="middle" stroke="#000" stroke-width="0.3">x (mm)</text>
<text transform="translate(24.3 412.7) rotate(-90)" font-family="'Liberation Sans', Arial, Helvetica, sans-serif" font-size="30.6" stroke="#000" stroke-width="0.3">u<tspan font-size="18.3" dy="12.2">y</tspan><tspan dy="-12.2">E</tspan><tspan font-size="18.3" dy="12.2">0</tspan><tspan dy="-12.2">/bp</tspan></text>
<text x="512.9" y="811.8" font-family="'Liberation Serif', 'Times New Roman', Times, serif" font-size="38" text-anchor="middle">(<tspan font-weight="bold">b</tspan>)</text>
<rect x="143.4" y="551" width="226.3" height="96.9" fill="#fff" stroke="#000" stroke-width="1.6"/>
<g font-family="'Liberation Sans', Arial, Helvetica, sans-serif" font-size="25.2" fill="#000" stroke="#000" stroke-width="0.3">
<text x="155.7" y="580.3">(b) y=0.5mm</text>
<line x1="155.1" y1="602.5" x2="213" y2="602.5" stroke="#ff0000" stroke-width="2.3"/>
<g fill="#ff0000"><circle cx="184.1" cy="602.5" r="4.5"/></g>
<text x="220" y="611.1">Case 1 (z=0)</text>
<line x1="155.1" y1="633.6" x2="213" y2="633.6" stroke="#000000" stroke-width="2.3"/>
<g fill="#000000"><rect x="180.2" y="629.7" width="7.8" height="7.8"/></g>
<text x="220" y="642.2">Case 2 (z=0)</text>
</g>
<rect x="679.3" y="531.6" width="318.7" height="127.9" fill="#fff" stroke="#000" stroke-width="1.6"/>
<g font-family="'Liberation Sans', Arial, Helvetica, sans-serif" font-size="25.2" fill="#000" stroke="#000" stroke-width="0.3">
<line x1="691.6" y1="551.3" x2="749.7" y2="551.3" stroke="#ff00ff" stroke-width="2.3"/>
<g fill="#ff00ff"><path d="M720.8 557.3 L715.6 548.3 L726 548.3 Z"/></g>
<text x="757" y="559.9">Case 1 (z=0.13mm)</text>
<line x1="691.6" y1="582.6" x2="749.7" y2="582.6" stroke="#0000ff" stroke-width="2.3"/>
<g fill="#0000ff"><path d="M720.8 576.6 L715.6 585.6 L726 585.6 Z"/></g>
<text x="757" y="591.2">Case 2 (z=0.13mm)</text>
<line x1="691.6" y1="613.9" x2="749.7" y2="613.9" stroke="#000080" stroke-width="2.3"/>
<g fill="#000080"><path d="M714.8 613.9 L723.8 608.7 L723.8 619.1 Z"/></g>
<text x="757" y="622.5">Case 1 (z=0.225mm)</text>
<line x1="691.6" y1="645.2" x2="749.7" y2="645.2" stroke="#008000" stroke-width="2.3"/>
<g fill="#008000"><path d="M720.8 639.6 L726.2 645.2 L720.8 650.8 L715.4 645.2 Z"/></g>
<text x="757" y="653.8">Case 2 (z=0.225mm)</text>
</g>
<line x1="104.5" y1="935.65" x2="975.7" y2="935.65" stroke="#808080" stroke-width="1.6" stroke-dasharray="5.6 3.87"/>
<line x1="104.5" y1="1000.45" x2="975.7" y2="1000.45" stroke="#808080" stroke-width="1.6" stroke-dasharray="5.6 3.87"/>
<line x1="104.5" y1="1065.25" x2="975.7" y2="1065.25" stroke="#808080" stroke-width="1.6" stroke-dasharray="5.6 3.87"/>
<line x1="104.5" y1="1130.05" x2="975.7" y2="1130.05" stroke="#808080" stroke-width="1.6" stroke-dasharray="5.6 3.87"/>
<line x1="104.5" y1="1194.85" x2="975.7" y2="1194.85" stroke="#808080" stroke-width="1.6" stroke-dasharray="5.6 3.87"/>
<line x1="104.5" y1="1259.65" x2="975.7" y2="1259.65" stroke="#808080" stroke-width="1.6" stroke-dasharray="5.6 3.87"/>
<line x1="104.5" y1="1324.45" x2="975.7" y2="1324.45" stroke="#808080" stroke-width="1.6" stroke-dasharray="5.6 3.87"/>
<line x1="104.5" y1="1389.25" x2="975.7" y2="1389.25" stroke="#808080" stroke-width="1.6" stroke-dasharray="5.6 3.87"/>
<line x1="104.5" y1="1454.05" x2="975.7" y2="1454.05" stroke="#808080" stroke-width="1.6" stroke-dasharray="5.6 3.87"/>
<line x1="213.4" y1="879.45" x2="213.4" y2="1518.85" stroke="#808080" stroke-width="1.6" stroke-dasharray="5.6 3.86"/>
<line x1="322.3" y1="879.45" x2="322.3" y2="1518.85" stroke="#808080" stroke-width="1.6" stroke-dasharray="5.6 3.86"/>
<line x1="431.2" y1="879.45" x2="431.2" y2="1518.85" stroke="#808080" stroke-width="1.6" stroke-dasharray="5.6 3.86"/>
<line x1="540.1" y1="879.45" x2="540.1" y2="1518.85" stroke="#808080" stroke-width="1.6" stroke-dasharray="5.6 3.86"/>
<line x1="649" y1="879.45" x2="649" y2="1518.85" stroke="#808080" stroke-width="1.6" stroke-dasharray="5.6 3.86"/>
<line x1="757.9" y1="879.45" x2="757.9" y2="1518.85" stroke="#808080" stroke-width="1.6" stroke-dasharray="5.6 3.86"/>
<line x1="866.8" y1="879.45" x2="866.8" y2="1518.85" stroke="#808080" stroke-width="1.6" stroke-dasharray="5.6 3.86"/>
<rect x="104.5" y="870.85" width="871.2" height="648" fill="none" stroke="#000" stroke-width="3"/>
<path d="M104.5 1519.85V1531.35 M213.4 1519.85V1531.35 M322.3 1519.85V1531.35 M431.2 1519.85V1531.35 M540.1 1519.85V1531.35 M649 1519.85V1531.35 M757.9 1519.85V1531.35 M866.8 1519.85V1531.35 M975.7 1519.85V1531.35 M158.95 1519.85V1524.75 M267.85 1519.85V1524.75 M376.75 1519.85V1524.75 M485.65 1519.85V1524.75 M594.55 1519.85V1524.75 M703.45 1519.85V1524.75 M812.35 1519.85V1524.75 M921.25 1519.85V1524.75 M103.5 870.85H91.9 M103.5 935.65H91.9 M103.5 1000.45H91.9 M103.5 1065.25H91.9 M103.5 1130.05H91.9 M103.5 1194.85H91.9 M103.5 1259.65H91.9 M103.5 1324.45H91.9 M103.5 1389.25H91.9 M103.5 1454.05H91.9 M103.5 1518.85H91.9 M103.5 903.25H98.6 M103.5 968.05H98.6 M103.5 1032.85H98.6 M103.5 1097.65H98.6 M103.5 1162.45H98.6 M103.5 1227.25H98.6 M103.5 1292.05H98.6 M103.5 1356.85H98.6 M103.5 1421.65H98.6 M103.5 1486.45H98.6" fill="none" stroke="#000" stroke-width="3" stroke-linecap="round"/>
<clipPath id="cc"><rect x="103.5" y="850.85" width="873.2" height="688"/></clipPath>
<g clip-path="url(#cc)">
<g>
<polyline fill="none" stroke="#ff0000" stroke-width="2.0" stroke-linejoin="round" points="104.5,1499.7 115.39,1495.17 126.28,1490.7 137.17,1486.1 148.06,1481.3 158.95,1476.22 169.84,1470.72 180.73,1464.7 191.62,1458.17 202.51,1451.47 213.4,1444.45 224.29,1436.5 235.18,1427.6 246.07,1417.92 256.96,1407.5 267.85,1395.9 278.74,1382.7 289.63,1367.75 300.52,1350.65 311.41,1331.38 322.3,1310.68 333.19,1290.15 344.08,1271.45 354.97,1254.93 365.86,1240.53 376.75,1228.08 387.64,1217.03 398.53,1207.4 409.42,1199.4 420.31,1192.55 431.2,1186.08 442.09,1180 452.98,1174.92 463.87,1170.95 474.76,1167.78 485.65,1165.07 496.54,1162.67 507.43,1160.78 518.32,1159.53 529.21,1158.78 540.1,1158.5 550.99,1158.78 561.88,1159.53 572.77,1160.78 583.66,1162.67 594.55,1165.07 605.44,1167.78 616.33,1170.95 627.22,1174.92 638.11,1180 649,1186.08 659.89,1192.55 670.78,1199.4 681.67,1207.4 692.56,1217.03 703.45,1228.08 714.34,1240.53 725.23,1254.93 736.12,1271.45 747.01,1290.15 757.9,1310.68 768.79,1331.38 779.68,1350.65 790.57,1367.75 801.46,1382.7 812.35,1395.9 823.24,1407.5 834.13,1417.92 845.02,1427.6 855.91,1436.5 866.8,1444.45 877.69,1451.47 888.58,1458.17 899.47,1464.7 910.36,1470.72 921.25,1476.22 932.14,1481.3 943.03,1486.1 953.92,1490.7 964.81,1495.17 975.7,1499.7"/>
<g fill="#ff0000">
<circle cx="104.5" cy="1499.7" r="4.5"/>
<circle cx="115.39" cy="1495.17" r="4.5"/>
<circle cx="126.28" cy="1490.7" r="4.5"/>
<circle cx="137.17" cy="1486.1" r="4.5"/>
<circle cx="148.06" cy="1481.3" r="4.5"/>
<circle cx="158.95" cy="1476.22" r="4.5"/>
<circle cx="169.84" cy="1470.72" r="4.5"/>
<circle cx="180.73" cy="1464.7" r="4.5"/>
<circle cx="191.62" cy="1458.17" r="4.5"/>
<circle cx="202.51" cy="1451.47" r="4.5"/>
<circle cx="213.4" cy="1444.45" r="4.5"/>
<circle cx="224.29" cy="1436.5" r="4.5"/>
<circle cx="235.18" cy="1427.6" r="4.5"/>
<circle cx="246.07" cy="1417.92" r="4.5"/>
<circle cx="256.96" cy="1407.5" r="4.5"/>
<circle cx="267.85" cy="1395.9" r="4.5"/>
<circle cx="278.74" cy="1382.7" r="4.5"/>
<circle cx="289.63" cy="1367.75" r="4.5"/>
<circle cx="300.52" cy="1350.65" r="4.5"/>
<circle cx="311.41" cy="1331.38" r="4.5"/>
<circle cx="322.3" cy="1310.68" r="4.5"/>
<circle cx="333.19" cy="1290.15" r="4.5"/>
<circle cx="344.08" cy="1271.45" r="4.5"/>
<circle cx="354.97" cy="1254.93" r="4.5"/>
<circle cx="365.86" cy="1240.53" r="4.5"/>
<circle cx="376.75" cy="1228.08" r="4.5"/>
<circle cx="387.64" cy="1217.03" r="4.5"/>
<circle cx="398.53" cy="1207.4" r="4.5"/>
<circle cx="409.42" cy="1199.4" r="4.5"/>
<circle cx="420.31" cy="1192.55" r="4.5"/>
<circle cx="431.2" cy="1186.08" r="4.5"/>
<circle cx="442.09" cy="1180" r="4.5"/>
<circle cx="452.98" cy="1174.92" r="4.5"/>
<circle cx="463.87" cy="1170.95" r="4.5"/>
<circle cx="474.76" cy="1167.78" r="4.5"/>
<circle cx="485.65" cy="1165.07" r="4.5"/>
<circle cx="496.54" cy="1162.67" r="4.5"/>
<circle cx="507.43" cy="1160.78" r="4.5"/>
<circle cx="518.32" cy="1159.53" r="4.5"/>
<circle cx="529.21" cy="1158.78" r="4.5"/>
<circle cx="540.1" cy="1158.5" r="4.5"/>
<circle cx="550.99" cy="1158.78" r="4.5"/>
<circle cx="561.88" cy="1159.53" r="4.5"/>
<circle cx="572.77" cy="1160.78" r="4.5"/>
<circle cx="583.66" cy="1162.67" r="4.5"/>
<circle cx="594.55" cy="1165.07" r="4.5"/>
<circle cx="605.44" cy="1167.78" r="4.5"/>
<circle cx="616.33" cy="1170.95" r="4.5"/>
<circle cx="627.22" cy="1174.92" r="4.5"/>
<circle cx="638.11" cy="1180" r="4.5"/>
<circle cx="649" cy="1186.08" r="4.5"/>
<circle cx="659.89" cy="1192.55" r="4.5"/>
<circle cx="670.78" cy="1199.4" r="4.5"/>
<circle cx="681.67" cy="1207.4" r="4.5"/>
<circle cx="692.56" cy="1217.03" r="4.5"/>
<circle cx="703.45" cy="1228.08" r="4.5"/>
<circle cx="714.34" cy="1240.53" r="4.5"/>
<circle cx="725.23" cy="1254.93" r="4.5"/>
<circle cx="736.12" cy="1271.45" r="4.5"/>
<circle cx="747.01" cy="1290.15" r="4.5"/>
<circle cx="757.9" cy="1310.68" r="4.5"/>
<circle cx="768.79" cy="1331.38" r="4.5"/>
<circle cx="779.68" cy="1350.65" r="4.5"/>
<circle cx="790.57" cy="1367.75" r="4.5"/>
<circle cx="801.46" cy="1382.7" r="4.5"/>
<circle cx="812.35" cy="1395.9" r="4.5"/>
<circle cx="823.24" cy="1407.5" r="4.5"/>
<circle cx="834.13" cy="1417.92" r="4.5"/>
<circle cx="845.02" cy="1427.6" r="4.5"/>
<circle cx="855.91" cy="1436.5" r="4.5"/>
<circle cx="866.8" cy="1444.45" r="4.5"/>
<circle cx="877.69" cy="1451.47" r="4.5"/>
<circle cx="888.58" cy="1458.17" r="4.5"/>
<circle cx="899.47" cy="1464.7" r="4.5"/>
<circle cx="910.36" cy="1470.72" r="4.5"/>
<circle cx="921.25" cy="1476.22" r="4.5"/>
<circle cx="932.14" cy="1481.3" r="4.5"/>
<circle cx="943.03" cy="1486.1" r="4.5"/>
<circle cx="953.92" cy="1490.7" r="4.5"/>
<circle cx="964.81" cy="1495.17" r="4.5"/>
<circle cx="975.7" cy="1499.7" r="4.5"/>
</g></g>
<g>
<polyline fill="none" stroke="#000000" stroke-width="2.0" stroke-linejoin="round" points="104.5,1444.3 115.39,1438.62 126.28,1432.73 137.17,1426.23 148.06,1419.3 158.95,1412.17 169.84,1404.65 180.73,1396.5 191.62,1387.7 202.51,1378.38 213.4,1368.42 224.29,1357.43 235.18,1345.23 246.07,1332.1 256.96,1317.53 267.85,1301.55 278.74,1284.65 289.63,1265.45 300.52,1243.08 311.41,1217.9 322.3,1190.78 333.19,1163.42 344.08,1138.1 354.97,1116.22 365.86,1097.38 376.75,1080.7 387.64,1066.05 398.53,1053.42 409.42,1042.3 420.31,1032.22 431.2,1023.38 442.09,1015.5 452.98,1008.67 463.87,1003.15 474.76,998.23 485.65,994.02 496.54,991 507.43,988.75 518.32,987.05 529.21,985.95 540.1,985.55 550.99,985.95 561.88,987.05 572.77,988.75 583.66,991 594.55,994.02 605.44,998.23 616.33,1003.15 627.22,1008.67 638.11,1015.5 649,1023.38 659.89,1032.22 670.78,1042.3 681.67,1053.42 692.56,1066.05 703.45,1080.7 714.34,1097.38 725.23,1116.22 736.12,1138.1 747.01,1163.42 757.9,1190.78 768.79,1217.9 779.68,1243.08 790.57,1265.45 801.46,1284.65 812.35,1301.55 823.24,1317.53 834.13,1332.1 845.02,1345.23 855.91,1357.43 866.8,1368.42 877.69,1378.38 888.58,1387.7 899.47,1396.5 910.36,1404.65 921.25,1412.17 932.14,1419.3 943.03,1426.23 953.92,1432.73 964.81,1438.62 975.7,1444.3"/>
<g fill="#000000">
<rect x="100.6" y="1440.4" width="7.8" height="7.8"/>
<rect x="111.49" y="1434.72" width="7.8" height="7.8"/>
<rect x="122.38" y="1428.83" width="7.8" height="7.8"/>
<rect x="133.27" y="1422.33" width="7.8" height="7.8"/>
<rect x="144.16" y="1415.4" width="7.8" height="7.8"/>
<rect x="155.05" y="1408.27" width="7.8" height="7.8"/>
<rect x="165.94" y="1400.75" width="7.8" height="7.8"/>
<rect x="176.83" y="1392.6" width="7.8" height="7.8"/>
<rect x="187.72" y="1383.8" width="7.8" height="7.8"/>
<rect x="198.61" y="1374.47" width="7.8" height="7.8"/>
<rect x="209.5" y="1364.52" width="7.8" height="7.8"/>
<rect x="220.39" y="1353.53" width="7.8" height="7.8"/>
<rect x="231.28" y="1341.33" width="7.8" height="7.8"/>
<rect x="242.17" y="1328.2" width="7.8" height="7.8"/>
<rect x="253.06" y="1313.62" width="7.8" height="7.8"/>
<rect x="263.95" y="1297.65" width="7.8" height="7.8"/>
<rect x="274.84" y="1280.75" width="7.8" height="7.8"/>
<rect x="285.73" y="1261.55" width="7.8" height="7.8"/>
<rect x="296.62" y="1239.17" width="7.8" height="7.8"/>
<rect x="307.51" y="1214" width="7.8" height="7.8"/>
<rect x="318.4" y="1186.88" width="7.8" height="7.8"/>
<rect x="329.29" y="1159.52" width="7.8" height="7.8"/>
<rect x="340.18" y="1134.2" width="7.8" height="7.8"/>
<rect x="351.07" y="1112.32" width="7.8" height="7.8"/>
<rect x="361.96" y="1093.47" width="7.8" height="7.8"/>
<rect x="372.85" y="1076.8" width="7.8" height="7.8"/>
<rect x="383.74" y="1062.15" width="7.8" height="7.8"/>
<rect x="394.63" y="1049.52" width="7.8" height="7.8"/>
<rect x="405.52" y="1038.4" width="7.8" height="7.8"/>
<rect x="416.41" y="1028.32" width="7.8" height="7.8"/>
<rect x="427.3" y="1019.48" width="7.8" height="7.8"/>
<rect x="438.19" y="1011.6" width="7.8" height="7.8"/>
<rect x="449.08" y="1004.77" width="7.8" height="7.8"/>
<rect x="459.97" y="999.25" width="7.8" height="7.8"/>
<rect x="470.86" y="994.33" width="7.8" height="7.8"/>
<rect x="481.75" y="990.12" width="7.8" height="7.8"/>
<rect x="492.64" y="987.1" width="7.8" height="7.8"/>
<rect x="503.53" y="984.85" width="7.8" height="7.8"/>
<rect x="514.42" y="983.15" width="7.8" height="7.8"/>
<rect x="525.31" y="982.05" width="7.8" height="7.8"/>
<rect x="536.2" y="981.65" width="7.8" height="7.8"/>
<rect x="547.09" y="982.05" width="7.8" height="7.8"/>
<rect x="557.98" y="983.15" width="7.8" height="7.8"/>
<rect x="568.87" y="984.85" width="7.8" height="7.8"/>
<rect x="579.76" y="987.1" width="7.8" height="7.8"/>
<rect x="590.65" y="990.12" width="7.8" height="7.8"/>
<rect x="601.54" y="994.33" width="7.8" height="7.8"/>
<rect x="612.43" y="999.25" width="7.8" height="7.8"/>
<rect x="623.32" y="1004.77" width="7.8" height="7.8"/>
<rect x="634.21" y="1011.6" width="7.8" height="7.8"/>
<rect x="645.1" y="1019.48" width="7.8" height="7.8"/>
<rect x="655.99" y="1028.32" width="7.8" height="7.8"/>
<rect x="666.88" y="1038.4" width="7.8" height="7.8"/>
<rect x="677.77" y="1049.52" width="7.8" height="7.8"/>
<rect x="688.66" y="1062.15" width="7.8" height="7.8"/>
<rect x="699.55" y="1076.8" width="7.8" height="7.8"/>
<rect x="710.44" y="1093.47" width="7.8" height="7.8"/>
<rect x="721.33" y="1112.32" width="7.8" height="7.8"/>
<rect x="732.22" y="1134.2" width="7.8" height="7.8"/>
<rect x="743.11" y="1159.52" width="7.8" height="7.8"/>
<rect x="754" y="1186.88" width="7.8" height="7.8"/>
<rect x="764.89" y="1214" width="7.8" height="7.8"/>
<rect x="775.78" y="1239.17" width="7.8" height="7.8"/>
<rect x="786.67" y="1261.55" width="7.8" height="7.8"/>
<rect x="797.56" y="1280.75" width="7.8" height="7.8"/>
<rect x="808.45" y="1297.65" width="7.8" height="7.8"/>
<rect x="819.34" y="1313.62" width="7.8" height="7.8"/>
<rect x="830.23" y="1328.2" width="7.8" height="7.8"/>
<rect x="841.12" y="1341.33" width="7.8" height="7.8"/>
<rect x="852.01" y="1353.53" width="7.8" height="7.8"/>
<rect x="862.9" y="1364.52" width="7.8" height="7.8"/>
<rect x="873.79" y="1374.47" width="7.8" height="7.8"/>
<rect x="884.68" y="1383.8" width="7.8" height="7.8"/>
<rect x="895.57" y="1392.6" width="7.8" height="7.8"/>
<rect x="906.46" y="1400.75" width="7.8" height="7.8"/>
<rect x="917.35" y="1408.27" width="7.8" height="7.8"/>
<rect x="928.24" y="1415.4" width="7.8" height="7.8"/>
<rect x="939.13" y="1422.33" width="7.8" height="7.8"/>
<rect x="950.02" y="1428.83" width="7.8" height="7.8"/>
<rect x="960.91" y="1434.72" width="7.8" height="7.8"/>
<rect x="971.8" y="1440.4" width="7.8" height="7.8"/>
</g></g>
<g>
<polyline fill="none" stroke="#ff00ff" stroke-width="2.0" stroke-linejoin="round" points="104.5,1499.9 115.39,1495.37 126.28,1490.9 137.17,1486.3 148.06,1481.5 158.95,1476.42 169.84,1470.92 180.73,1464.9 191.62,1458.37 202.51,1451.67 213.4,1444.65 224.29,1436.7 235.18,1427.8 246.07,1418.12 256.96,1407.7 267.85,1396.1 278.74,1382.9 289.63,1368.52 300.52,1351.65 311.41,1330.27 322.3,1306.32 333.19,1283.3 344.08,1263.42 354.97,1246.87 365.86,1232.6 376.75,1220.32 387.64,1209.7 398.53,1200.27 409.42,1192.02 420.31,1185.1 431.2,1179.35 442.09,1174.07 452.98,1169.32 463.87,1165.45 474.76,1162.05 485.65,1158.97 496.54,1156.4 507.43,1154.45 518.32,1153.17 529.21,1152.47 540.1,1152.25 550.99,1152.47 561.88,1153.17 572.77,1154.45 583.66,1156.4 594.55,1158.97 605.44,1162.05 616.33,1165.45 627.22,1169.32 638.11,1174.07 649,1179.35 659.89,1185.1 670.78,1192.02 681.67,1200.27 692.56,1209.7 703.45,1220.32 714.34,1232.6 725.23,1246.87 736.12,1263.42 747.01,1283.3 757.9,1306.32 768.79,1330.27 779.68,1351.65 790.57,1368.52 801.46,1382.9 812.35,1396.1 823.24,1407.7 834.13,1418.12 845.02,1427.8 855.91,1436.7 866.8,1444.65 877.69,1451.67 888.58,1458.37 899.47,1464.9 910.36,1470.92 921.25,1476.42 932.14,1481.5 943.03,1486.3 953.92,1490.9 964.81,1495.37 975.7,1499.9"/>
<g fill="#ff00ff">
<path d="M104.5 1505.9 L99.3 1496.9 L109.7 1496.9 Z"/>
<path d="M115.39 1501.38 L110.19 1492.37 L120.59 1492.37 Z"/>
<path d="M126.28 1496.9 L121.08 1487.9 L131.48 1487.9 Z"/>
<path d="M137.17 1492.3 L131.97 1483.3 L142.37 1483.3 Z"/>
<path d="M148.06 1487.5 L142.86 1478.5 L153.26 1478.5 Z"/>
<path d="M158.95 1482.43 L153.75 1473.42 L164.15 1473.42 Z"/>
<path d="M169.84 1476.93 L164.64 1467.92 L175.04 1467.92 Z"/>
<path d="M180.73 1470.9 L175.53 1461.9 L185.93 1461.9 Z"/>
<path d="M191.62 1464.38 L186.42 1455.37 L196.82 1455.37 Z"/>
<path d="M202.51 1457.68 L197.31 1448.67 L207.71 1448.67 Z"/>
<path d="M213.4 1450.65 L208.2 1441.65 L218.6 1441.65 Z"/>
<path d="M224.29 1442.7 L219.09 1433.7 L229.49 1433.7 Z"/>
<path d="M235.18 1433.8 L229.98 1424.8 L240.38 1424.8 Z"/>
<path d="M246.07 1424.13 L240.87 1415.12 L251.27 1415.12 Z"/>
<path d="M256.96 1413.7 L251.76 1404.7 L262.16 1404.7 Z"/>
<path d="M267.85 1402.1 L262.65 1393.1 L273.05 1393.1 Z"/>
<path d="M278.74 1388.9 L273.54 1379.9 L283.94 1379.9 Z"/>
<path d="M289.63 1374.53 L284.43 1365.52 L294.83 1365.52 Z"/>
<path d="M300.52 1357.65 L295.32 1348.65 L305.72 1348.65 Z"/>
<path d="M311.41 1336.28 L306.21 1327.27 L316.61 1327.27 Z"/>
<path d="M322.3 1312.33 L317.1 1303.32 L327.5 1303.32 Z"/>
<path d="M333.19 1289.3 L327.99 1280.3 L338.39 1280.3 Z"/>
<path d="M344.08 1269.43 L338.88 1260.42 L349.28 1260.42 Z"/>
<path d="M354.97 1252.88 L349.77 1243.87 L360.17 1243.87 Z"/>
<path d="M365.86 1238.6 L360.66 1229.6 L371.06 1229.6 Z"/>
<path d="M376.75 1226.33 L371.55 1217.32 L381.95 1217.32 Z"/>
<path d="M387.64 1215.7 L382.44 1206.7 L392.84 1206.7 Z"/>
<path d="M398.53 1206.28 L393.33 1197.27 L403.73 1197.27 Z"/>
<path d="M409.42 1198.03 L404.22 1189.02 L414.62 1189.02 Z"/>
<path d="M420.31 1191.1 L415.11 1182.1 L425.51 1182.1 Z"/>
<path d="M431.2 1185.35 L426 1176.35 L436.4 1176.35 Z"/>
<path d="M442.09 1180.08 L436.89 1171.07 L447.29 1171.07 Z"/>
<path d="M452.98 1175.33 L447.78 1166.32 L458.18 1166.32 Z"/>
<path d="M463.87 1171.45 L458.67 1162.45 L469.07 1162.45 Z"/>
<path d="M474.76 1168.05 L469.56 1159.05 L479.96 1159.05 Z"/>
<path d="M485.65 1164.98 L480.45 1155.97 L490.85 1155.97 Z"/>
<path d="M496.54 1162.4 L491.34 1153.4 L501.74 1153.4 Z"/>
<path d="M507.43 1160.45 L502.23 1151.45 L512.63 1151.45 Z"/>
<path d="M518.32 1159.18 L513.12 1150.17 L523.52 1150.17 Z"/>
<path d="M529.21 1158.48 L524.01 1149.47 L534.41 1149.47 Z"/>
<path d="M540.1 1158.25 L534.9 1149.25 L545.3 1149.25 Z"/>
<path d="M550.99 1158.48 L545.79 1149.47 L556.19 1149.47 Z"/>
<path d="M561.88 1159.18 L556.68 1150.17 L567.08 1150.17 Z"/>
<path d="M572.77 1160.45 L567.57 1151.45 L577.97 1151.45 Z"/>
<path d="M583.66 1162.4 L578.46 1153.4 L588.86 1153.4 Z"/>
<path d="M594.55 1164.98 L589.35 1155.97 L599.75 1155.97 Z"/>
<path d="M605.44 1168.05 L600.24 1159.05 L610.64 1159.05 Z"/>
<path d="M616.33 1171.45 L611.13 1162.45 L621.53 1162.45 Z"/>
<path d="M627.22 1175.33 L622.02 1166.32 L632.42 1166.32 Z"/>
<path d="M638.11 1180.08 L632.91 1171.07 L643.31 1171.07 Z"/>
<path d="M649 1185.35 L643.8 1176.35 L654.2 1176.35 Z"/>
<path d="M659.89 1191.1 L654.69 1182.1 L665.09 1182.1 Z"/>
<path d="M670.78 1198.03 L665.58 1189.02 L675.98 1189.02 Z"/>
<path d="M681.67 1206.28 L676.47 1197.27 L686.87 1197.27 Z"/>
<path d="M692.56 1215.7 L687.36 1206.7 L697.76 1206.7 Z"/>
<path d="M703.45 1226.33 L698.25 1217.32 L708.65 1217.32 Z"/>
<path d="M714.34 1238.6 L709.14 1229.6 L719.54 1229.6 Z"/>
<path d="M725.23 1252.88 L720.03 1243.87 L730.43 1243.87 Z"/>
<path d="M736.12 1269.43 L730.92 1260.42 L741.32 1260.42 Z"/>
<path d="M747.01 1289.3 L741.81 1280.3 L752.21 1280.3 Z"/>
<path d="M757.9 1312.33 L752.7 1303.32 L763.1 1303.32 Z"/>
<path d="M768.79 1336.28 L763.59 1327.27 L773.99 1327.27 Z"/>
<path d="M779.68 1357.65 L774.48 1348.65 L784.88 1348.65 Z"/>
<path d="M790.57 1374.53 L785.37 1365.52 L795.77 1365.52 Z"/>
<path d="M801.46 1388.9 L796.26 1379.9 L806.66 1379.9 Z"/>
<path d="M812.35 1402.1 L807.15 1393.1 L817.55 1393.1 Z"/>
<path d="M823.24 1413.7 L818.04 1404.7 L828.44 1404.7 Z"/>
<path d="M834.13 1424.13 L828.93 1415.12 L839.33 1415.12 Z"/>
<path d="M845.02 1433.8 L839.82 1424.8 L850.22 1424.8 Z"/>
<path d="M855.91 1442.7 L850.71 1433.7 L861.11 1433.7 Z"/>
<path d="M866.8 1450.65 L861.6 1441.65 L872 1441.65 Z"/>
<path d="M877.69 1457.68 L872.49 1448.67 L882.89 1448.67 Z"/>
<path d="M888.58 1464.38 L883.38 1455.37 L893.78 1455.37 Z"/>
<path d="M899.47 1470.9 L894.27 1461.9 L904.67 1461.9 Z"/>
<path d="M910.36 1476.93 L905.16 1467.92 L915.56 1467.92 Z"/>
<path d="M921.25 1482.43 L916.05 1473.42 L926.45 1473.42 Z"/>
<path d="M932.14 1487.5 L926.94 1478.5 L937.34 1478.5 Z"/>
<path d="M943.03 1492.3 L937.83 1483.3 L948.23 1483.3 Z"/>
<path d="M953.92 1496.9 L948.72 1487.9 L959.12 1487.9 Z"/>
<path d="M964.81 1501.38 L959.61 1492.37 L970.01 1492.37 Z"/>
<path d="M975.7 1505.9 L970.5 1496.9 L980.9 1496.9 Z"/>
</g></g>
<g>
<polyline fill="none" stroke="#0000ff" stroke-width="2.0" stroke-linejoin="round" points="104.5,1444.3 115.39,1438.63 126.28,1432.73 137.17,1426.23 148.06,1419.3 158.95,1412.18 169.84,1404.65 180.73,1396.5 191.62,1387.7 202.51,1378.38 213.4,1368.43 224.29,1357.43 235.18,1345.23 246.07,1332.1 256.96,1317.53 267.85,1301.55 278.74,1284.85 289.63,1265.83 300.52,1243.4 311.41,1217.55 322.3,1188.18 333.19,1158.68 344.08,1132.8 354.97,1110.7 365.86,1092.03 376.75,1076.3 387.64,1062.08 398.53,1048.53 409.42,1036.18 420.31,1025.78 431.2,1016.95 442.09,1009.23 452.98,1002.68 463.87,997.08 474.76,992.18 485.65,988.08 496.54,984.83 507.43,982.3 518.32,980.45 529.21,979.25 540.1,978.8 550.99,979.25 561.88,980.45 572.77,982.3 583.66,984.83 594.55,988.08 605.44,992.18 616.33,997.08 627.22,1002.68 638.11,1009.23 649,1016.95 659.89,1025.78 670.78,1036.18 681.67,1048.53 692.56,1062.08 703.45,1076.3 714.34,1092.03 725.23,1110.7 736.12,1132.8 747.01,1158.68 757.9,1188.18 768.79,1217.55 779.68,1243.4 790.57,1265.83 801.46,1284.85 812.35,1301.55 823.24,1317.53 834.13,1332.1 845.02,1345.23 855.91,1357.43 866.8,1368.43 877.69,1378.38 888.58,1387.7 899.47,1396.5 910.36,1404.65 921.25,1412.18 932.14,1419.3 943.03,1426.23 953.92,1432.73 964.81,1438.63 975.7,1444.3"/>
<g fill="#0000ff">
<path d="M104.5 1438.3 L99.3 1447.3 L109.7 1447.3 Z"/>
<path d="M115.39 1432.62 L110.19 1441.63 L120.59 1441.63 Z"/>
<path d="M126.28 1426.72 L121.08 1435.73 L131.48 1435.73 Z"/>
<path d="M137.17 1420.22 L131.97 1429.23 L142.37 1429.23 Z"/>
<path d="M148.06 1413.3 L142.86 1422.3 L153.26 1422.3 Z"/>
<path d="M158.95 1406.17 L153.75 1415.18 L164.15 1415.18 Z"/>
<path d="M169.84 1398.65 L164.64 1407.65 L175.04 1407.65 Z"/>
<path d="M180.73 1390.5 L175.53 1399.5 L185.93 1399.5 Z"/>
<path d="M191.62 1381.7 L186.42 1390.7 L196.82 1390.7 Z"/>
<path d="M202.51 1372.37 L197.31 1381.38 L207.71 1381.38 Z"/>
<path d="M213.4 1362.42 L208.2 1371.43 L218.6 1371.43 Z"/>
<path d="M224.29 1351.42 L219.09 1360.43 L229.49 1360.43 Z"/>
<path d="M235.18 1339.22 L229.98 1348.23 L240.38 1348.23 Z"/>
<path d="M246.07 1326.1 L240.87 1335.1 L251.27 1335.1 Z"/>
<path d="M256.96 1311.52 L251.76 1320.53 L262.16 1320.53 Z"/>
<path d="M267.85 1295.55 L262.65 1304.55 L273.05 1304.55 Z"/>
<path d="M278.74 1278.85 L273.54 1287.85 L283.94 1287.85 Z"/>
<path d="M289.63 1259.82 L284.43 1268.83 L294.83 1268.83 Z"/>
<path d="M300.52 1237.4 L295.32 1246.4 L305.72 1246.4 Z"/>
<path d="M311.41 1211.55 L306.21 1220.55 L316.61 1220.55 Z"/>
<path d="M322.3 1182.17 L317.1 1191.18 L327.5 1191.18 Z"/>
<path d="M333.19 1152.67 L327.99 1161.68 L338.39 1161.68 Z"/>
<path d="M344.08 1126.8 L338.88 1135.8 L349.28 1135.8 Z"/>
<path d="M354.97 1104.7 L349.77 1113.7 L360.17 1113.7 Z"/>
<path d="M365.86 1086.02 L360.66 1095.03 L371.06 1095.03 Z"/>
<path d="M376.75 1070.3 L371.55 1079.3 L381.95 1079.3 Z"/>
<path d="M387.64 1056.07 L382.44 1065.08 L392.84 1065.08 Z"/>
<path d="M398.53 1042.52 L393.33 1051.53 L403.73 1051.53 Z"/>
<path d="M409.42 1030.17 L404.22 1039.18 L414.62 1039.18 Z"/>
<path d="M420.31 1019.77 L415.11 1028.78 L425.51 1028.78 Z"/>
<path d="M431.2 1010.95 L426 1019.95 L436.4 1019.95 Z"/>
<path d="M442.09 1003.22 L436.89 1012.23 L447.29 1012.23 Z"/>
<path d="M452.98 996.67 L447.78 1005.68 L458.18 1005.68 Z"/>
<path d="M463.87 991.07 L458.67 1000.08 L469.07 1000.08 Z"/>
<path d="M474.76 986.17 L469.56 995.18 L479.96 995.18 Z"/>
<path d="M485.65 982.07 L480.45 991.08 L490.85 991.08 Z"/>
<path d="M496.54 978.82 L491.34 987.83 L501.74 987.83 Z"/>
<path d="M507.43 976.3 L502.23 985.3 L512.63 985.3 Z"/>
<path d="M518.32 974.45 L513.12 983.45 L523.52 983.45 Z"/>
<path d="M529.21 973.25 L524.01 982.25 L534.41 982.25 Z"/>
<path d="M540.1 972.8 L534.9 981.8 L545.3 981.8 Z"/>
<path d="M550.99 973.25 L545.79 982.25 L556.19 982.25 Z"/>
<path d="M561.88 974.45 L556.68 983.45 L567.08 983.45 Z"/>
<path d="M572.77 976.3 L567.57 985.3 L577.97 985.3 Z"/>
<path d="M583.66 978.82 L578.46 987.83 L588.86 987.83 Z"/>
<path d="M594.55 982.07 L589.35 991.08 L599.75 991.08 Z"/>
<path d="M605.44 986.17 L600.24 995.18 L610.64 995.18 Z"/>
<path d="M616.33 991.07 L611.13 1000.08 L621.53 1000.08 Z"/>
<path d="M627.22 996.67 L622.02 1005.68 L632.42 1005.68 Z"/>
<path d="M638.11 1003.22 L632.91 1012.23 L643.31 1012.23 Z"/>
<path d="M649 1010.95 L643.8 1019.95 L654.2 1019.95 Z"/>
<path d="M659.89 1019.77 L654.69 1028.78 L665.09 1028.78 Z"/>
<path d="M670.78 1030.17 L665.58 1039.18 L675.98 1039.18 Z"/>
<path d="M681.67 1042.52 L676.47 1051.53 L686.87 1051.53 Z"/>
<path d="M692.56 1056.07 L687.36 1065.08 L697.76 1065.08 Z"/>
<path d="M703.45 1070.3 L698.25 1079.3 L708.65 1079.3 Z"/>
<path d="M714.34 1086.02 L709.14 1095.03 L719.54 1095.03 Z"/>
<path d="M725.23 1104.7 L720.03 1113.7 L730.43 1113.7 Z"/>
<path d="M736.12 1126.8 L730.92 1135.8 L741.32 1135.8 Z"/>
<path d="M747.01 1152.67 L741.81 1161.68 L752.21 1161.68 Z"/>
<path d="M757.9 1182.17 L752.7 1191.18 L763.1 1191.18 Z"/>
<path d="M768.79 1211.55 L763.59 1220.55 L773.99 1220.55 Z"/>
<path d="M779.68 1237.4 L774.48 1246.4 L784.88 1246.4 Z"/>
<path d="M790.57 1259.82 L785.37 1268.83 L795.77 1268.83 Z"/>
<path d="M801.46 1278.85 L796.26 1287.85 L806.66 1287.85 Z"/>
<path d="M812.35 1295.55 L807.15 1304.55 L817.55 1304.55 Z"/>
<path d="M823.24 1311.52 L818.04 1320.53 L828.44 1320.53 Z"/>
<path d="M834.13 1326.1 L828.93 1335.1 L839.33 1335.1 Z"/>
<path d="M845.02 1339.22 L839.82 1348.23 L850.22 1348.23 Z"/>
<path d="M855.91 1351.42 L850.71 1360.43 L861.11 1360.43 Z"/>
<path d="M866.8 1362.42 L861.6 1371.43 L872 1371.43 Z"/>
<path d="M877.69 1372.37 L872.49 1381.38 L882.89 1381.38 Z"/>
<path d="M888.58 1381.7 L883.38 1390.7 L893.78 1390.7 Z"/>
<path d="M899.47 1390.5 L894.27 1399.5 L904.67 1399.5 Z"/>
<path d="M910.36 1398.65 L905.16 1407.65 L915.56 1407.65 Z"/>
<path d="M921.25 1406.17 L916.05 1415.18 L926.45 1415.18 Z"/>
<path d="M932.14 1413.3 L926.94 1422.3 L937.34 1422.3 Z"/>
<path d="M943.03 1420.22 L937.83 1429.23 L948.23 1429.23 Z"/>
<path d="M953.92 1426.72 L948.72 1435.73 L959.12 1435.73 Z"/>
<path d="M964.81 1432.62 L959.61 1441.63 L970.01 1441.63 Z"/>
<path d="M975.7 1438.3 L970.5 1447.3 L980.9 1447.3 Z"/>
</g></g>
<g>
<polyline fill="none" stroke="#000080" stroke-width="2.0" stroke-linejoin="round" points="104.5,1499.9 115.39,1495.38 126.28,1490.9 137.17,1486.3 148.06,1481.5 158.95,1476.43 169.84,1470.92 180.73,1464.9 191.62,1458.38 202.51,1451.67 213.4,1444.65 224.29,1436.7 235.18,1427.8 246.07,1418.12 256.96,1407.7 267.85,1396.1 278.74,1382.9 289.63,1368.53 300.52,1353.17 311.41,1336.2 322.3,1317.92 333.19,1299.83 344.08,1282.92 354.97,1267.62 365.86,1254.17 376.75,1242.32 387.64,1231.47 398.53,1221.83 409.42,1213.35 420.31,1205.78 431.2,1199.35 442.09,1193.78 452.98,1188.72 463.87,1184.42 474.76,1181.08 485.65,1178.4 496.54,1176.05 507.43,1174.15 518.32,1172.8 529.21,1171.93 540.1,1171.6 550.99,1171.93 561.88,1172.8 572.77,1174.15 583.66,1176.05 594.55,1178.4 605.44,1181.08 616.33,1184.42 627.22,1188.72 638.11,1193.78 649,1199.35 659.89,1205.78 670.78,1213.35 681.67,1221.83 692.56,1231.47 703.45,1242.32 714.34,1254.17 725.23,1267.62 736.12,1282.92 747.01,1299.83 757.9,1317.92 768.79,1336.2 779.68,1353.17 790.57,1368.53 801.46,1382.9 812.35,1396.1 823.24,1407.7 834.13,1418.12 845.02,1427.8 855.91,1436.7 866.8,1444.65 877.69,1451.67 888.58,1458.38 899.47,1464.9 910.36,1470.92 921.25,1476.43 932.14,1481.5 943.03,1486.3 953.92,1490.9 964.81,1495.38 975.7,1499.9"/>
<g fill="#000080">
<path d="M98.5 1499.9 L107.5 1494.7 L107.5 1505.1 Z"/>
<path d="M109.39 1495.38 L118.39 1490.17 L118.39 1500.58 Z"/>
<path d="M120.28 1490.9 L129.28 1485.7 L129.28 1496.1 Z"/>
<path d="M131.17 1486.3 L140.17 1481.1 L140.17 1491.5 Z"/>
<path d="M142.06 1481.5 L151.06 1476.3 L151.06 1486.7 Z"/>
<path d="M152.95 1476.43 L161.95 1471.23 L161.95 1481.63 Z"/>
<path d="M163.84 1470.92 L172.84 1465.72 L172.84 1476.12 Z"/>
<path d="M174.73 1464.9 L183.73 1459.7 L183.73 1470.1 Z"/>
<path d="M185.62 1458.38 L194.62 1453.17 L194.62 1463.58 Z"/>
<path d="M196.51 1451.67 L205.51 1446.47 L205.51 1456.88 Z"/>
<path d="M207.4 1444.65 L216.4 1439.45 L216.4 1449.85 Z"/>
<path d="M218.29 1436.7 L227.29 1431.5 L227.29 1441.9 Z"/>
<path d="M229.18 1427.8 L238.18 1422.6 L238.18 1433 Z"/>
<path d="M240.07 1418.12 L249.07 1412.92 L249.07 1423.33 Z"/>
<path d="M250.96 1407.7 L259.96 1402.5 L259.96 1412.9 Z"/>
<path d="M261.85 1396.1 L270.85 1390.9 L270.85 1401.3 Z"/>
<path d="M272.74 1382.9 L281.74 1377.7 L281.74 1388.1 Z"/>
<path d="M283.63 1368.53 L292.63 1363.33 L292.63 1373.73 Z"/>
<path d="M294.52 1353.17 L303.52 1347.97 L303.52 1358.38 Z"/>
<path d="M305.41 1336.2 L314.41 1331 L314.41 1341.4 Z"/>
<path d="M316.3 1317.92 L325.3 1312.72 L325.3 1323.12 Z"/>
<path d="M327.19 1299.83 L336.19 1294.62 L336.19 1305.03 Z"/>
<path d="M338.08 1282.92 L347.08 1277.72 L347.08 1288.12 Z"/>
<path d="M348.97 1267.62 L357.97 1262.42 L357.97 1272.83 Z"/>
<path d="M359.86 1254.17 L368.86 1248.97 L368.86 1259.38 Z"/>
<path d="M370.75 1242.32 L379.75 1237.12 L379.75 1247.52 Z"/>
<path d="M381.64 1231.47 L390.64 1226.27 L390.64 1236.67 Z"/>
<path d="M392.53 1221.83 L401.53 1216.62 L401.53 1227.03 Z"/>
<path d="M403.42 1213.35 L412.42 1208.15 L412.42 1218.55 Z"/>
<path d="M414.31 1205.78 L423.31 1200.58 L423.31 1210.98 Z"/>
<path d="M425.2 1199.35 L434.2 1194.15 L434.2 1204.55 Z"/>
<path d="M436.09 1193.78 L445.09 1188.58 L445.09 1198.98 Z"/>
<path d="M446.98 1188.72 L455.98 1183.52 L455.98 1193.92 Z"/>
<path d="M457.87 1184.42 L466.87 1179.22 L466.87 1189.62 Z"/>
<path d="M468.76 1181.08 L477.76 1175.88 L477.76 1186.28 Z"/>
<path d="M479.65 1178.4 L488.65 1173.2 L488.65 1183.6 Z"/>
<path d="M490.54 1176.05 L499.54 1170.85 L499.54 1181.25 Z"/>
<path d="M501.43 1174.15 L510.43 1168.95 L510.43 1179.35 Z"/>
<path d="M512.32 1172.8 L521.32 1167.6 L521.32 1178 Z"/>
<path d="M523.21 1171.93 L532.21 1166.73 L532.21 1177.13 Z"/>
<path d="M534.1 1171.6 L543.1 1166.4 L543.1 1176.8 Z"/>
<path d="M544.99 1171.93 L553.99 1166.73 L553.99 1177.13 Z"/>
<path d="M555.88 1172.8 L564.88 1167.6 L564.88 1178 Z"/>
<path d="M566.77 1174.15 L575.77 1168.95 L575.77 1179.35 Z"/>
<path d="M577.66 1176.05 L586.66 1170.85 L586.66 1181.25 Z"/>
<path d="M588.55 1178.4 L597.55 1173.2 L597.55 1183.6 Z"/>
<path d="M599.44 1181.08 L608.44 1175.88 L608.44 1186.28 Z"/>
<path d="M610.33 1184.42 L619.33 1179.22 L619.33 1189.62 Z"/>
<path d="M621.22 1188.72 L630.22 1183.52 L630.22 1193.92 Z"/>
<path d="M632.11 1193.78 L641.11 1188.58 L641.11 1198.98 Z"/>
<path d="M643 1199.35 L652 1194.15 L652 1204.55 Z"/>
<path d="M653.89 1205.78 L662.89 1200.58 L662.89 1210.98 Z"/>
<path d="M664.78 1213.35 L673.78 1208.15 L673.78 1218.55 Z"/>
<path d="M675.67 1221.83 L684.67 1216.62 L684.67 1227.03 Z"/>
<path d="M686.56 1231.47 L695.56 1226.27 L695.56 1236.67 Z"/>
<path d="M697.45 1242.32 L706.45 1237.12 L706.45 1247.52 Z"/>
<path d="M708.34 1254.17 L717.34 1248.97 L717.34 1259.38 Z"/>
<path d="M719.23 1267.62 L728.23 1262.42 L728.23 1272.83 Z"/>
<path d="M730.12 1282.92 L739.12 1277.72 L739.12 1288.12 Z"/>
<path d="M741.01 1299.83 L750.01 1294.62 L750.01 1305.03 Z"/>
<path d="M751.9 1317.92 L760.9 1312.72 L760.9 1323.12 Z"/>
<path d="M762.79 1336.2 L771.79 1331 L771.79 1341.4 Z"/>
<path d="M773.68 1353.17 L782.68 1347.97 L782.68 1358.38 Z"/>
<path d="M784.57 1368.53 L793.57 1363.33 L793.57 1373.73 Z"/>
<path d="M795.46 1382.9 L804.46 1377.7 L804.46 1388.1 Z"/>
<path d="M806.35 1396.1 L815.35 1390.9 L815.35 1401.3 Z"/>
<path d="M817.24 1407.7 L826.24 1402.5 L826.24 1412.9 Z"/>
<path d="M828.13 1418.12 L837.13 1412.92 L837.13 1423.33 Z"/>
<path d="M839.02 1427.8 L848.02 1422.6 L848.02 1433 Z"/>
<path d="M849.91 1436.7 L858.91 1431.5 L858.91 1441.9 Z"/>
<path d="M860.8 1444.65 L869.8 1439.45 L869.8 1449.85 Z"/>
<path d="M871.69 1451.67 L880.69 1446.47 L880.69 1456.88 Z"/>
<path d="M882.58 1458.38 L891.58 1453.17 L891.58 1463.58 Z"/>
<path d="M893.47 1464.9 L902.47 1459.7 L902.47 1470.1 Z"/>
<path d="M904.36 1470.92 L913.36 1465.72 L913.36 1476.12 Z"/>
<path d="M915.25 1476.43 L924.25 1471.23 L924.25 1481.63 Z"/>
<path d="M926.14 1481.5 L935.14 1476.3 L935.14 1486.7 Z"/>
<path d="M937.03 1486.3 L946.03 1481.1 L946.03 1491.5 Z"/>
<path d="M947.92 1490.9 L956.92 1485.7 L956.92 1496.1 Z"/>
<path d="M958.81 1495.38 L967.81 1490.17 L967.81 1500.58 Z"/>
<path d="M969.7 1499.9 L978.7 1494.7 L978.7 1505.1 Z"/>
</g></g>
<g>
<polyline fill="none" stroke="#008000" stroke-width="2.0" stroke-linejoin="round" points="104.5,1444.3 115.39,1438.62 126.28,1432.73 137.17,1426.23 148.06,1419.3 158.95,1412.17 169.84,1404.65 180.73,1396.5 191.62,1387.7 202.51,1378.38 213.4,1368.42 224.29,1357.43 235.18,1345.23 246.07,1332.1 256.96,1317.53 267.85,1301.55 278.74,1284.88 289.63,1266.45 300.52,1245.62 311.41,1222.7 322.3,1198.23 333.19,1173.9 344.08,1151.2 354.97,1130.7 365.86,1112.6 376.75,1096.72 387.64,1082.62 398.53,1069.78 409.42,1058.25 420.31,1048.33 431.2,1039.67 442.09,1032.05 452.98,1025.48 463.87,1019.8 474.76,1014.75 485.65,1010.25 496.54,1006.6 507.43,1004.02 518.32,1002.42 529.21,1001.55 540.1,1001.25 550.99,1001.55 561.88,1002.42 572.77,1004.02 583.66,1006.6 594.55,1010.25 605.44,1014.75 616.33,1019.8 627.22,1025.48 638.11,1032.05 649,1039.67 659.89,1048.33 670.78,1058.25 681.67,1069.78 692.56,1082.62 703.45,1096.72 714.34,1112.6 725.23,1130.7 736.12,1151.2 747.01,1173.9 757.9,1198.23 768.79,1222.7 779.68,1245.62 790.57,1266.45 801.46,1284.88 812.35,1301.55 823.24,1317.53 834.13,1332.1 845.02,1345.23 855.91,1357.43 866.8,1368.42 877.69,1378.38 888.58,1387.7 899.47,1396.5 910.36,1404.65 921.25,1412.17 932.14,1419.3 943.03,1426.23 953.92,1432.73 964.81,1438.62 975.7,1444.3"/>
<g fill="#008000">
<path d="M104.5 1438.7 L109.9 1444.3 L104.5 1449.9 L99.1 1444.3 Z"/>
<path d="M115.39 1433.03 L120.79 1438.62 L115.39 1444.22 L109.99 1438.62 Z"/>
<path d="M126.28 1427.13 L131.68 1432.73 L126.28 1438.33 L120.88 1432.73 Z"/>
<path d="M137.17 1420.63 L142.57 1426.23 L137.17 1431.83 L131.77 1426.23 Z"/>
<path d="M148.06 1413.7 L153.46 1419.3 L148.06 1424.9 L142.66 1419.3 Z"/>
<path d="M158.95 1406.58 L164.35 1412.17 L158.95 1417.77 L153.55 1412.17 Z"/>
<path d="M169.84 1399.05 L175.24 1404.65 L169.84 1410.25 L164.44 1404.65 Z"/>
<path d="M180.73 1390.9 L186.13 1396.5 L180.73 1402.1 L175.33 1396.5 Z"/>
<path d="M191.62 1382.1 L197.02 1387.7 L191.62 1393.3 L186.22 1387.7 Z"/>
<path d="M202.51 1372.78 L207.91 1378.38 L202.51 1383.97 L197.11 1378.38 Z"/>
<path d="M213.4 1362.83 L218.8 1368.42 L213.4 1374.02 L208 1368.42 Z"/>
<path d="M224.29 1351.83 L229.69 1357.43 L224.29 1363.03 L218.89 1357.43 Z"/>
<path d="M235.18 1339.63 L240.58 1345.23 L235.18 1350.83 L229.78 1345.23 Z"/>
<path d="M246.07 1326.5 L251.47 1332.1 L246.07 1337.7 L240.67 1332.1 Z"/>
<path d="M256.96 1311.93 L262.36 1317.53 L256.96 1323.12 L251.56 1317.53 Z"/>
<path d="M267.85 1295.95 L273.25 1301.55 L267.85 1307.15 L262.45 1301.55 Z"/>
<path d="M278.74 1279.28 L284.14 1284.88 L278.74 1290.47 L273.34 1284.88 Z"/>
<path d="M289.63 1260.85 L295.03 1266.45 L289.63 1272.05 L284.23 1266.45 Z"/>
<path d="M300.52 1240.03 L305.92 1245.62 L300.52 1251.22 L295.12 1245.62 Z"/>
<path d="M311.41 1217.1 L316.81 1222.7 L311.41 1228.3 L306.01 1222.7 Z"/>
<path d="M322.3 1192.63 L327.7 1198.23 L322.3 1203.83 L316.9 1198.23 Z"/>
<path d="M333.19 1168.3 L338.59 1173.9 L333.19 1179.5 L327.79 1173.9 Z"/>
<path d="M344.08 1145.6 L349.48 1151.2 L344.08 1156.8 L338.68 1151.2 Z"/>
<path d="M354.97 1125.1 L360.37 1130.7 L354.97 1136.3 L349.57 1130.7 Z"/>
<path d="M365.86 1107 L371.26 1112.6 L365.86 1118.2 L360.46 1112.6 Z"/>
<path d="M376.75 1091.12 L382.15 1096.72 L376.75 1102.32 L371.35 1096.72 Z"/>
<path d="M387.64 1077.03 L393.04 1082.62 L387.64 1088.22 L382.24 1082.62 Z"/>
<path d="M398.53 1064.18 L403.93 1069.78 L398.53 1075.38 L393.13 1069.78 Z"/>
<path d="M409.42 1052.65 L414.82 1058.25 L409.42 1063.85 L404.02 1058.25 Z"/>
<path d="M420.31 1042.73 L425.71 1048.33 L420.31 1053.92 L414.91 1048.33 Z"/>
<path d="M431.2 1034.08 L436.6 1039.67 L431.2 1045.27 L425.8 1039.67 Z"/>
<path d="M442.09 1026.45 L447.49 1032.05 L442.09 1037.65 L436.69 1032.05 Z"/>
<path d="M452.98 1019.88 L458.38 1025.48 L452.98 1031.08 L447.58 1025.48 Z"/>
<path d="M463.87 1014.2 L469.27 1019.8 L463.87 1025.4 L458.47 1019.8 Z"/>
<path d="M474.76 1009.15 L480.16 1014.75 L474.76 1020.35 L469.36 1014.75 Z"/>
<path d="M485.65 1004.65 L491.05 1010.25 L485.65 1015.85 L480.25 1010.25 Z"/>
<path d="M496.54 1001 L501.94 1006.6 L496.54 1012.2 L491.14 1006.6 Z"/>
<path d="M507.43 998.42 L512.83 1004.02 L507.43 1009.62 L502.03 1004.02 Z"/>
<path d="M518.32 996.82 L523.72 1002.42 L518.32 1008.02 L512.92 1002.42 Z"/>
<path d="M529.21 995.95 L534.61 1001.55 L529.21 1007.15 L523.81 1001.55 Z"/>
<path d="M540.1 995.65 L545.5 1001.25 L540.1 1006.85 L534.7 1001.25 Z"/>
<path d="M550.99 995.95 L556.39 1001.55 L550.99 1007.15 L545.59 1001.55 Z"/>
<path d="M561.88 996.82 L567.28 1002.42 L561.88 1008.02 L556.48 1002.42 Z"/>
<path d="M572.77 998.42 L578.17 1004.02 L572.77 1009.62 L567.37 1004.02 Z"/>
<path d="M583.66 1001 L589.06 1006.6 L583.66 1012.2 L578.26 1006.6 Z"/>
<path d="M594.55 1004.65 L599.95 1010.25 L594.55 1015.85 L589.15 1010.25 Z"/>
<path d="M605.44 1009.15 L610.84 1014.75 L605.44 1020.35 L600.04 1014.75 Z"/>
<path d="M616.33 1014.2 L621.73 1019.8 L616.33 1025.4 L610.93 1019.8 Z"/>
<path d="M627.22 1019.88 L632.62 1025.48 L627.22 1031.08 L621.82 1025.48 Z"/>
<path d="M638.11 1026.45 L643.51 1032.05 L638.11 1037.65 L632.71 1032.05 Z"/>
<path d="M649 1034.08 L654.4 1039.67 L649 1045.27 L643.6 1039.67 Z"/>
<path d="M659.89 1042.73 L665.29 1048.33 L659.89 1053.92 L654.49 1048.33 Z"/>
<path d="M670.78 1052.65 L676.18 1058.25 L670.78 1063.85 L665.38 1058.25 Z"/>
<path d="M681.67 1064.18 L687.07 1069.78 L681.67 1075.38 L676.27 1069.78 Z"/>
<path d="M692.56 1077.03 L697.96 1082.62 L692.56 1088.22 L687.16 1082.62 Z"/>
<path d="M703.45 1091.12 L708.85 1096.72 L703.45 1102.32 L698.05 1096.72 Z"/>
<path d="M714.34 1107 L719.74 1112.6 L714.34 1118.2 L708.94 1112.6 Z"/>
<path d="M725.23 1125.1 L730.63 1130.7 L725.23 1136.3 L719.83 1130.7 Z"/>
<path d="M736.12 1145.6 L741.52 1151.2 L736.12 1156.8 L730.72 1151.2 Z"/>
<path d="M747.01 1168.3 L752.41 1173.9 L747.01 1179.5 L741.61 1173.9 Z"/>
<path d="M757.9 1192.63 L763.3 1198.23 L757.9 1203.83 L752.5 1198.23 Z"/>
<path d="M768.79 1217.1 L774.19 1222.7 L768.79 1228.3 L763.39 1222.7 Z"/>
<path d="M779.68 1240.03 L785.08 1245.62 L779.68 1251.22 L774.28 1245.62 Z"/>
<path d="M790.57 1260.85 L795.97 1266.45 L790.57 1272.05 L785.17 1266.45 Z"/>
<path d="M801.46 1279.28 L806.86 1284.88 L801.46 1290.47 L796.06 1284.88 Z"/>
<path d="M812.35 1295.95 L817.75 1301.55 L812.35 1307.15 L806.95 1301.55 Z"/>
<path d="M823.24 1311.93 L828.64 1317.53 L823.24 1323.12 L817.84 1317.53 Z"/>
<path d="M834.13 1326.5 L839.53 1332.1 L834.13 1337.7 L828.73 1332.1 Z"/>
<path d="M845.02 1339.63 L850.42 1345.23 L845.02 1350.83 L839.62 1345.23 Z"/>
<path d="M855.91 1351.83 L861.31 1357.43 L855.91 1363.03 L850.51 1357.43 Z"/>
<path d="M866.8 1362.83 L872.2 1368.42 L866.8 1374.02 L861.4 1368.42 Z"/>
<path d="M877.69 1372.78 L883.09 1378.38 L877.69 1383.97 L872.29 1378.38 Z"/>
<path d="M888.58 1382.1 L893.98 1387.7 L888.58 1393.3 L883.18 1387.7 Z"/>
<path d="M899.47 1390.9 L904.87 1396.5 L899.47 1402.1 L894.07 1396.5 Z"/>
<path d="M910.36 1399.05 L915.76 1404.65 L910.36 1410.25 L904.96 1404.65 Z"/>
<path d="M921.25 1406.58 L926.65 1412.17 L921.25 1417.77 L915.85 1412.17 Z"/>
<path d="M932.14 1413.7 L937.54 1419.3 L932.14 1424.9 L926.74 1419.3 Z"/>
<path d="M943.03 1420.63 L948.43 1426.23 L943.03 1431.83 L937.63 1426.23 Z"/>
<path d="M953.92 1427.13 L959.32 1432.73 L953.92 1438.33 L948.52 1432.73 Z"/>
<path d="M964.81 1433.03 L970.21 1438.62 L964.81 1444.22 L959.41 1438.62 Z"/>
<path d="M975.7 1438.7 L981.1 1444.3 L975.7 1449.9 L970.3 1444.3 Z"/>
</g></g>
</g>
<g font-family="'Liberation Sans', Arial, Helvetica, sans-serif" font-size="25" fill="#000" stroke="#000" stroke-width="0.3">
<text x="104.5" y="1559.7" text-anchor="middle">-2.0</text>
<text x="213.4" y="1559.7" text-anchor="middle">-1.5</text>
<text x="322.3" y="1559.7" text-anchor="middle">-1.0</text>
<text x="431.2" y="1559.7" text-anchor="middle">-0.5</text>
<text x="540.1" y="1559.7" text-anchor="middle">0.0</text>
<text x="649" y="1559.7" text-anchor="middle">0.5</text>
<text x="757.9" y="1559.7" text-anchor="middle">1.0</text>
<text x="866.8" y="1559.7" text-anchor="middle">1.5</text>
<text x="975.7" y="1559.7" text-anchor="middle">2.0</text>
<text x="83.5" y="878.05" text-anchor="end">1.2</text>
<text x="83.5" y="942.85" text-anchor="end">1.1</text>
<text x="83.5" y="1007.65" text-anchor="end">1.0</text>
<text x="83.5" y="1072.45" text-anchor="end">0.9</text>
<text x="83.5" y="1137.25" text-anchor="end">0.8</text>
<text x="83.5" y="1202.05" text-anchor="end">0.7</text>
<text x="83.5" y="1266.85" text-anchor="end">0.6</text>
<text x="83.5" y="1331.65" text-anchor="end">0.5</text>
<text x="83.5" y="1396.45" text-anchor="end">0.4</text>
<text x="83.5" y="1461.25" text-anchor="end">0.3</text>
<text x="83.5" y="1526.05" text-anchor="end">0.2</text>
</g>
<text x="540.1" y="1608.3" font-family="'Liberation Sans', Arial, Helvetica, sans-serif" font-size="31" text-anchor="middle" stroke="#000" stroke-width="0.3">x (mm)</text>
<text transform="translate(24.3 1266.2) rotate(-90)" font-family="'Liberation Sans', Arial, Helvetica, sans-serif" font-size="30.6" stroke="#000" stroke-width="0.3">u<tspan font-size="18.3" dy="12.2">z</tspan><tspan dy="-12.2">E</tspan><tspan font-size="18.3" dy="12.2">0</tspan><tspan dy="-12.2">/bp</tspan></text>
<text x="512.7" y="1673.3" font-family="'Liberation Serif', 'Times New Roman', Times, serif" font-size="38" text-anchor="middle">(<tspan font-weight="bold">c</tspan>)</text>
<rect x="389" y="1274.8" width="312.6" height="219.8" fill="#fff" stroke="#000" stroke-width="1.6"/>
<g font-family="'Liberation Sans', Arial, Helvetica, sans-serif" font-size="25.2" fill="#000" stroke="#000" stroke-width="0.3">
<text x="400.3" y="1303.1">(c) y=0.5mm</text>
<line x1="400" y1="1325.6" x2="456.7" y2="1325.6" stroke="#ff0000" stroke-width="2.0"/>
<g fill="#ff0000"><circle cx="428.2" cy="1325.6" r="4.5"/></g>
<text x="463.6" y="1334.2">Case 1 (z=0)</text>
<line x1="400" y1="1356.2" x2="456.7" y2="1356.2" stroke="#000000" stroke-width="2.0"/>
<g fill="#000000"><rect x="424.3" y="1352.3" width="7.8" height="7.8"/></g>
<text x="463.6" y="1364.8">Case 2 (z=0)</text>
<line x1="400" y1="1387.3" x2="456.7" y2="1387.3" stroke="#ff00ff" stroke-width="2.0"/>
<g fill="#ff00ff"><path d="M428.2 1393.3 L423 1384.3 L433.4 1384.3 Z"/></g>
<text x="463.6" y="1395.9">Case 1 (z=0.13mm)</text>
<line x1="400" y1="1418.2" x2="456.7" y2="1418.2" stroke="#0000ff" stroke-width="2.0"/>
<g fill="#0000ff"><path d="M428.2 1412.2 L423 1421.2 L433.4 1421.2 Z"/></g>
<text x="463.6" y="1426.8">Case 2 (z=0.13mm)</text>
<line x1="400" y1="1449.2" x2="456.7" y2="1449.2" stroke="#000080" stroke-width="2.0"/>
<g fill="#000080"><path d="M422.2 1449.2 L431.2 1444 L431.2 1454.4 Z"/></g>
<text x="463.6" y="1457.8">Case 1 (z=0.225mm)</text>
<line x1="400" y1="1480.1" x2="456.7" y2="1480.1" stroke="#008000" stroke-width="2.0"/>
<g fill="#008000"><path d="M428.2 1474.5 L433.6 1480.1 L428.2 1485.7 L422.8 1480.1 Z"/></g>
<text x="463.6" y="1488.7">Case 2 (z=0.225mm)</text>
</g>
</svg></body></html>
